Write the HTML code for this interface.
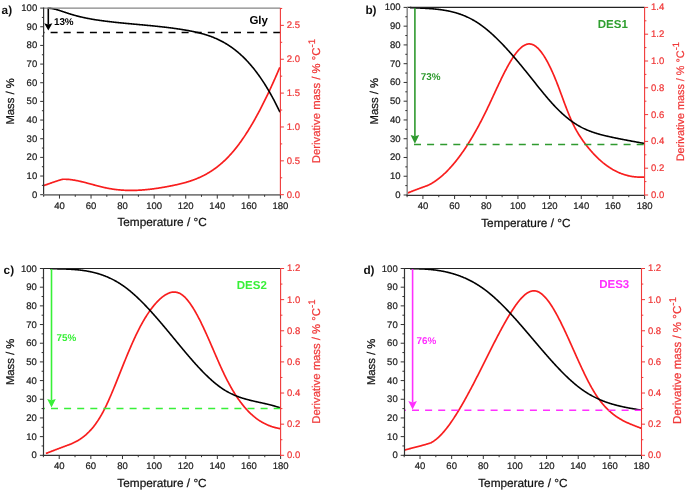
<!DOCTYPE html>
<html><head><meta charset="utf-8"><style>
html,body{margin:0;padding:0;background:#fff;width:685px;height:493px;overflow:hidden}
svg text{font-family:"Liberation Sans", sans-serif}
svg{will-change:transform}
svg text{text-rendering:geometricPrecision}
svg text.t{stroke-width:0.22px}
</style></head><body>
<svg width="685" height="493" viewBox="0 0 685 493" style="display:block">
<rect width="685" height="493" fill="#fff"/>
<g><path d="M43.80,185.50 L44.30,185.34 L44.80,185.18 L45.30,185.01 L45.80,184.84 L46.30,184.67 L46.80,184.50 L47.30,184.33 L47.80,184.16 L48.30,183.98 L48.80,183.81 L49.30,183.63 L49.80,183.45 L50.30,183.28 L50.80,183.10 L51.30,182.92 L51.80,182.75 L52.30,182.57 L52.80,182.39 L53.30,182.22 L53.80,182.04 L54.30,181.87 L54.80,181.70 L55.30,181.53 L55.80,181.36 L56.30,181.19 L56.80,181.02 L57.30,180.86 L57.80,180.70 L58.30,180.54 L58.80,180.38 L59.30,180.23 L59.80,180.08 L60.30,179.93 L60.80,179.79 L61.30,179.65 L61.80,179.51 L62.30,179.38 L62.60,179.30 L63.10,179.26 L63.60,179.25 L64.10,179.25 L64.60,179.25 L65.10,179.25 L65.60,179.26 L66.10,179.28 L66.60,179.30 L67.10,179.32 L67.60,179.35 L68.10,179.39 L68.60,179.43 L69.10,179.47 L69.60,179.52 L70.10,179.57 L70.60,179.63 L71.10,179.69 L71.60,179.75 L72.10,179.82 L72.60,179.89 L73.10,179.97 L73.60,180.05 L74.10,180.13 L74.60,180.21 L75.10,180.30 L75.60,180.39 L76.10,180.49 L76.60,180.58 L77.10,180.68 L77.60,180.79 L78.10,180.89 L78.60,181.00 L79.10,181.11 L79.60,181.22 L80.10,181.33 L80.60,181.44 L81.10,181.56 L81.60,181.68 L82.10,181.80 L82.60,181.92 L83.10,182.04 L83.60,182.17 L84.10,182.29 L84.60,182.42 L85.10,182.55 L85.60,182.67 L86.10,182.80 L86.60,182.93 L87.10,183.07 L87.60,183.20 L88.10,183.33 L88.60,183.46 L89.10,183.60 L89.60,183.73 L90.10,183.86 L90.60,184.00 L91.10,184.13 L91.60,184.27 L92.10,184.40 L92.60,184.54 L93.10,184.67 L93.60,184.81 L94.10,184.94 L94.60,185.08 L95.10,185.21 L95.60,185.35 L96.10,185.48 L96.60,185.61 L97.10,185.74 L97.60,185.87 L98.10,186.00 L98.60,186.13 L99.10,186.26 L99.60,186.39 L100.10,186.51 L100.60,186.64 L101.10,186.76 L101.60,186.88 L102.10,187.00 L102.60,187.12 L103.10,187.24 L103.60,187.35 L104.10,187.47 L104.60,187.58 L105.10,187.69 L105.60,187.80 L106.10,187.91 L106.60,188.01 L107.10,188.11 L107.60,188.21 L108.10,188.31 L108.60,188.40 L109.10,188.50 L109.60,188.59 L110.10,188.68 L110.60,188.76 L111.10,188.84 L111.60,188.92 L112.10,189.00 L112.60,189.08 L113.10,189.15 L113.60,189.23 L114.10,189.29 L114.60,189.36 L115.10,189.43 L115.60,189.49 L116.10,189.55 L116.60,189.61 L117.10,189.66 L117.60,189.72 L118.10,189.77 L118.60,189.82 L119.10,189.87 L119.60,189.91 L120.10,189.96 L120.60,190.00 L121.10,190.04 L121.60,190.07 L122.10,190.11 L122.60,190.14 L123.10,190.17 L123.60,190.20 L124.10,190.23 L124.60,190.26 L125.10,190.28 L125.60,190.30 L126.10,190.32 L126.60,190.34 L127.10,190.35 L127.60,190.37 L128.10,190.38 L128.60,190.39 L129.10,190.40 L129.60,190.40 L130.10,190.41 L130.60,190.41 L131.10,190.41 L131.60,190.41 L132.10,190.41 L132.60,190.40 L133.10,190.40 L133.60,190.39 L134.10,190.38 L134.60,190.37 L135.10,190.35 L135.60,190.34 L136.10,190.32 L136.60,190.30 L137.10,190.28 L137.60,190.26 L138.10,190.24 L138.60,190.21 L139.10,190.19 L139.60,190.16 L140.10,190.13 L140.60,190.10 L141.10,190.07 L141.60,190.03 L142.10,190.00 L142.60,189.96 L143.10,189.92 L143.60,189.88 L144.10,189.84 L144.60,189.80 L145.10,189.76 L145.60,189.71 L146.10,189.66 L146.60,189.62 L147.10,189.57 L147.60,189.52 L148.10,189.46 L148.60,189.41 L149.10,189.36 L149.60,189.30 L150.10,189.24 L150.60,189.18 L151.10,189.12 L151.60,189.06 L152.10,189.00 L152.60,188.94 L153.10,188.87 L153.60,188.81 L154.10,188.74 L154.60,188.67 L155.10,188.60 L155.60,188.53 L156.10,188.46 L156.60,188.39 L157.10,188.31 L157.60,188.24 L158.10,188.16 L158.60,188.08 L159.10,188.01 L159.60,187.93 L160.10,187.85 L160.60,187.77 L161.10,187.68 L161.60,187.60 L162.10,187.52 L162.60,187.43 L163.10,187.35 L163.60,187.26 L164.10,187.17 L164.60,187.08 L165.10,186.99 L165.60,186.90 L166.10,186.81 L166.60,186.72 L167.10,186.63 L167.60,186.53 L168.10,186.44 L168.60,186.34 L169.10,186.25 L169.60,186.15 L170.10,186.05 L170.60,185.96 L171.10,185.86 L171.60,185.76 L172.10,185.66 L172.60,185.56 L173.10,185.45 L173.60,185.35 L174.10,185.25 L174.60,185.14 L175.10,185.04 L175.60,184.93 L176.10,184.82 L176.60,184.71 L177.10,184.60 L177.60,184.49 L178.10,184.37 L178.60,184.26 L179.10,184.14 L179.60,184.02 L180.10,183.90 L180.60,183.78 L181.10,183.66 L181.60,183.53 L182.10,183.41 L182.60,183.28 L183.10,183.15 L183.60,183.02 L184.10,182.88 L184.60,182.75 L185.10,182.61 L185.60,182.47 L186.10,182.32 L186.60,182.18 L187.10,182.03 L187.60,181.88 L188.10,181.73 L188.60,181.57 L189.10,181.42 L189.60,181.26 L190.10,181.09 L190.60,180.93 L191.10,180.76 L191.60,180.59 L192.10,180.41 L192.60,180.24 L193.10,180.06 L193.60,179.88 L194.10,179.69 L194.60,179.50 L195.10,179.31 L195.60,179.11 L196.10,178.92 L196.60,178.71 L197.10,178.51 L197.60,178.30 L198.10,178.09 L198.60,177.87 L199.10,177.65 L199.60,177.43 L200.10,177.20 L200.60,176.97 L201.10,176.74 L201.60,176.50 L202.10,176.26 L202.60,176.02 L203.10,175.77 L203.60,175.51 L204.10,175.26 L204.60,174.99 L205.10,174.73 L205.60,174.46 L206.10,174.18 L206.60,173.90 L207.10,173.62 L207.60,173.33 L208.10,173.04 L208.60,172.74 L209.10,172.44 L209.60,172.14 L210.10,171.83 L210.60,171.51 L211.10,171.19 L211.60,170.86 L212.10,170.53 L212.60,170.20 L213.10,169.86 L213.60,169.51 L214.10,169.16 L214.60,168.81 L215.10,168.45 L215.60,168.08 L216.10,167.71 L216.60,167.33 L217.10,166.95 L217.60,166.56 L218.10,166.17 L218.60,165.77 L219.10,165.37 L219.60,164.96 L220.10,164.54 L220.60,164.12 L221.10,163.69 L221.60,163.26 L222.10,162.82 L222.60,162.37 L223.10,161.92 L223.60,161.46 L224.10,161.00 L224.60,160.53 L225.10,160.05 L225.60,159.57 L226.10,159.08 L226.60,158.59 L227.10,158.08 L227.60,157.58 L228.10,157.06 L228.60,156.54 L229.10,156.01 L229.60,155.48 L230.10,154.93 L230.60,154.38 L231.10,153.83 L231.60,153.27 L232.10,152.70 L232.60,152.12 L233.10,151.54 L233.60,150.95 L234.10,150.35 L234.60,149.74 L235.10,149.13 L235.60,148.51 L236.10,147.88 L236.60,147.25 L237.10,146.61 L237.60,145.96 L238.10,145.30 L238.60,144.64 L239.10,143.97 L239.60,143.29 L240.10,142.60 L240.60,141.91 L241.10,141.21 L241.60,140.50 L242.10,139.79 L242.60,139.07 L243.10,138.34 L243.60,137.61 L244.10,136.86 L244.60,136.11 L245.10,135.36 L245.60,134.60 L246.10,133.83 L246.60,133.05 L247.10,132.27 L247.60,131.48 L248.10,130.68 L248.60,129.88 L249.10,129.07 L249.60,128.25 L250.10,127.42 L250.60,126.59 L251.10,125.76 L251.60,124.91 L252.10,124.06 L252.60,123.21 L253.10,122.34 L253.60,121.47 L254.10,120.60 L254.60,119.71 L255.10,118.82 L255.60,117.93 L256.10,117.02 L256.60,116.12 L257.10,115.20 L257.60,114.28 L258.10,113.35 L258.60,112.42 L259.10,111.48 L259.60,110.53 L260.10,109.58 L260.60,108.62 L261.10,107.65 L261.60,106.68 L262.10,105.71 L262.60,104.72 L263.10,103.73 L263.60,102.74 L264.10,101.73 L264.60,100.73 L265.10,99.71 L265.60,98.69 L266.10,97.67 L266.60,96.64 L267.10,95.60 L267.60,94.56 L268.10,93.51 L268.60,92.45 L269.10,91.39 L269.60,90.33 L270.10,89.25 L270.60,88.18 L271.10,87.09 L271.60,86.00 L272.10,84.91 L272.60,83.81 L273.10,82.70 L273.60,81.59 L274.10,80.47 L274.60,79.35 L275.10,78.22 L275.60,77.09 L276.10,75.95 L276.60,74.80 L277.10,73.65 L277.60,72.50 L278.10,71.34 L278.60,70.17 L279.10,69.00 L279.60,67.82 L279.80,67.35" fill="none" stroke="#f81e1e" stroke-width="1.7" stroke-linejoin="round"/>
<path d="M47.60,8.19 L48.10,8.20 L48.60,8.22 L49.10,8.25 L49.60,8.29 L50.10,8.34 L50.60,8.40 L51.10,8.46 L51.60,8.53 L52.10,8.61 L52.60,8.70 L53.10,8.79 L53.60,8.89 L54.10,8.99 L54.60,9.11 L55.10,9.22 L55.60,9.35 L56.10,9.47 L56.60,9.61 L57.10,9.74 L57.60,9.88 L58.10,10.03 L58.60,10.18 L59.10,10.33 L59.60,10.49 L60.10,10.65 L60.60,10.81 L61.10,10.97 L61.60,11.14 L62.10,11.30 L62.60,11.47 L63.10,11.64 L63.60,11.81 L64.10,11.98 L64.60,12.15 L65.10,12.33 L65.60,12.50 L66.10,12.67 L66.60,12.84 L67.10,13.01 L67.60,13.18 L68.10,13.34 L68.60,13.51 L69.10,13.67 L69.60,13.83 L70.10,13.99 L70.60,14.14 L71.10,14.29 L71.60,14.45 L72.10,14.60 L72.60,14.74 L73.10,14.89 L73.60,15.03 L74.10,15.18 L74.60,15.32 L75.10,15.45 L75.60,15.59 L76.10,15.72 L76.60,15.86 L77.10,15.99 L77.60,16.12 L78.10,16.24 L78.60,16.37 L79.10,16.49 L79.60,16.62 L80.10,16.74 L80.60,16.86 L81.10,16.97 L81.60,17.09 L82.10,17.20 L82.60,17.31 L83.10,17.43 L83.60,17.54 L84.10,17.64 L84.60,17.75 L85.10,17.85 L85.60,17.96 L86.10,18.06 L86.60,18.16 L87.10,18.26 L87.60,18.36 L88.10,18.46 L88.60,18.55 L89.10,18.64 L89.60,18.74 L90.10,18.83 L90.60,18.92 L91.10,19.01 L91.60,19.10 L92.10,19.18 L92.60,19.27 L93.10,19.35 L93.60,19.44 L94.10,19.52 L94.60,19.60 L95.10,19.68 L95.60,19.76 L96.10,19.84 L96.60,19.92 L97.10,19.99 L97.60,20.07 L98.10,20.14 L98.60,20.22 L99.10,20.29 L99.60,20.36 L100.10,20.43 L100.60,20.50 L101.10,20.57 L101.60,20.64 L102.10,20.71 L102.60,20.78 L103.10,20.84 L103.60,20.91 L104.10,20.97 L104.60,21.04 L105.10,21.10 L105.60,21.17 L106.10,21.23 L106.60,21.29 L107.10,21.35 L107.60,21.41 L108.10,21.48 L108.60,21.54 L109.10,21.60 L109.60,21.65 L110.10,21.71 L110.60,21.77 L111.10,21.83 L111.60,21.89 L112.10,21.94 L112.60,22.00 L113.10,22.06 L113.60,22.11 L114.10,22.17 L114.60,22.22 L115.10,22.28 L115.60,22.33 L116.10,22.38 L116.60,22.44 L117.10,22.49 L117.60,22.54 L118.10,22.59 L118.60,22.65 L119.10,22.70 L119.60,22.75 L120.10,22.80 L120.60,22.85 L121.10,22.90 L121.60,22.95 L122.10,23.00 L122.60,23.05 L123.10,23.10 L123.60,23.15 L124.10,23.20 L124.60,23.25 L125.10,23.29 L125.60,23.34 L126.10,23.39 L126.60,23.44 L127.10,23.49 L127.60,23.53 L128.10,23.58 L128.60,23.63 L129.10,23.67 L129.60,23.72 L130.10,23.77 L130.60,23.81 L131.10,23.86 L131.60,23.91 L132.10,23.95 L132.60,24.00 L133.10,24.04 L133.60,24.09 L134.10,24.14 L134.60,24.18 L135.10,24.23 L135.60,24.27 L136.10,24.32 L136.60,24.36 L137.10,24.41 L137.60,24.46 L138.10,24.50 L138.60,24.55 L139.10,24.59 L139.60,24.64 L140.10,24.68 L140.60,24.73 L141.10,24.78 L141.60,24.82 L142.10,24.87 L142.60,24.91 L143.10,24.96 L143.60,25.01 L144.10,25.05 L144.60,25.10 L145.10,25.14 L145.60,25.19 L146.10,25.24 L146.60,25.29 L147.10,25.33 L147.60,25.38 L148.10,25.43 L148.60,25.47 L149.10,25.52 L149.60,25.57 L150.10,25.62 L150.60,25.67 L151.10,25.72 L151.60,25.76 L152.10,25.81 L152.60,25.86 L153.10,25.91 L153.60,25.96 L154.10,26.01 L154.60,26.06 L155.10,26.11 L155.60,26.17 L156.10,26.22 L156.60,26.27 L157.10,26.32 L157.60,26.37 L158.10,26.43 L158.60,26.48 L159.10,26.53 L159.60,26.59 L160.10,26.64 L160.60,26.70 L161.10,26.75 L161.60,26.81 L162.10,26.86 L162.60,26.92 L163.10,26.98 L163.60,27.03 L164.10,27.09 L164.60,27.15 L165.10,27.21 L165.60,27.27 L166.10,27.33 L166.60,27.39 L167.10,27.45 L167.60,27.51 L168.10,27.57 L168.60,27.63 L169.10,27.70 L169.60,27.76 L170.10,27.82 L170.60,27.89 L171.10,27.95 L171.60,28.02 L172.10,28.08 L172.60,28.15 L173.10,28.22 L173.60,28.29 L174.10,28.35 L174.60,28.42 L175.10,28.49 L175.60,28.56 L176.10,28.64 L176.60,28.71 L177.10,28.78 L177.60,28.85 L178.10,28.93 L178.60,29.00 L179.10,29.08 L179.60,29.15 L180.10,29.23 L180.60,29.31 L181.10,29.39 L181.60,29.46 L182.10,29.54 L182.60,29.63 L183.10,29.71 L183.60,29.79 L184.10,29.87 L184.60,29.96 L185.10,30.04 L185.60,30.13 L186.10,30.21 L186.60,30.30 L187.10,30.39 L187.60,30.48 L188.10,30.57 L188.60,30.66 L189.10,30.75 L189.60,30.84 L190.10,30.94 L190.60,31.03 L191.10,31.13 L191.60,31.23 L192.10,31.33 L192.60,31.43 L193.10,31.53 L193.60,31.63 L194.10,31.74 L194.60,31.84 L195.10,31.95 L195.60,32.06 L196.10,32.17 L196.60,32.29 L197.10,32.40 L197.60,32.52 L198.10,32.64 L198.60,32.76 L199.10,32.88 L199.60,33.01 L200.10,33.14 L200.60,33.26 L201.10,33.40 L201.60,33.53 L202.10,33.67 L202.60,33.80 L203.10,33.94 L203.60,34.09 L204.10,34.23 L204.60,34.38 L205.10,34.53 L205.60,34.68 L206.10,34.84 L206.60,35.00 L207.10,35.16 L207.60,35.32 L208.10,35.49 L208.60,35.66 L209.10,35.83 L209.60,36.01 L210.10,36.19 L210.60,36.37 L211.10,36.55 L211.60,36.74 L212.10,36.93 L212.60,37.12 L213.10,37.32 L213.60,37.52 L214.10,37.73 L214.60,37.93 L215.10,38.14 L215.60,38.36 L216.10,38.58 L216.60,38.80 L217.10,39.02 L217.60,39.25 L218.10,39.49 L218.60,39.72 L219.10,39.96 L219.60,40.21 L220.10,40.46 L220.60,40.71 L221.10,40.96 L221.60,41.22 L222.10,41.49 L222.60,41.76 L223.10,42.03 L223.60,42.31 L224.10,42.59 L224.60,42.87 L225.10,43.17 L225.60,43.46 L226.10,43.76 L226.60,44.06 L227.10,44.37 L227.60,44.68 L228.10,45.00 L228.60,45.32 L229.10,45.65 L229.60,45.98 L230.10,46.32 L230.60,46.66 L231.10,47.01 L231.60,47.36 L232.10,47.71 L232.60,48.08 L233.10,48.44 L233.60,48.82 L234.10,49.19 L234.60,49.57 L235.10,49.96 L235.60,50.36 L236.10,50.75 L236.60,51.16 L237.10,51.57 L237.60,51.98 L238.10,52.40 L238.60,52.83 L239.10,53.26 L239.60,53.70 L240.10,54.14 L240.60,54.59 L241.10,55.05 L241.60,55.51 L242.10,55.98 L242.60,56.45 L243.10,56.93 L243.60,57.41 L244.10,57.91 L244.60,58.40 L245.10,58.91 L245.60,59.42 L246.10,59.93 L246.60,60.46 L247.10,60.99 L247.60,61.52 L248.10,62.07 L248.60,62.61 L249.10,63.17 L249.60,63.73 L250.10,64.30 L250.60,64.88 L251.10,65.46 L251.60,66.05 L252.10,66.65 L252.60,67.25 L253.10,67.86 L253.60,68.48 L254.10,69.10 L254.60,69.73 L255.10,70.37 L255.60,71.02 L256.10,71.67 L256.60,72.33 L257.10,73.00 L257.60,73.67 L258.10,74.36 L258.60,75.05 L259.10,75.74 L259.60,76.45 L260.10,77.16 L260.60,77.88 L261.10,78.61 L261.60,79.35 L262.10,80.09 L262.60,80.84 L263.10,81.60 L263.60,82.37 L264.10,83.15 L264.60,83.93 L265.10,84.72 L265.60,85.52 L266.10,86.33 L266.60,87.15 L267.10,87.97 L267.60,88.81 L268.10,89.65 L268.60,90.50 L269.10,91.36 L269.60,92.22 L270.10,93.10 L270.60,93.98 L271.10,94.87 L271.60,95.78 L272.10,96.69 L272.60,97.60 L273.10,98.53 L273.60,99.47 L274.10,100.42 L274.60,101.37 L275.10,102.33 L275.60,103.31 L276.10,104.29 L276.60,105.28 L277.10,106.28 L277.60,107.29 L278.10,108.31 L278.60,109.34 L279.10,110.37 L279.60,111.42 L280.00,112.26" fill="none" stroke="#000" stroke-width="1.6" stroke-linejoin="round"/>
<line x1="43.70" y1="32.40" x2="280.40" y2="32.40" stroke="#000" stroke-width="1.5" stroke-dasharray="7.0 6.1" stroke-dashoffset="6.20"/>
<line x1="48.30" y1="8.10" x2="48.30" y2="24.70" stroke="#000" stroke-width="1.6"/>
<path d="M44.20,23.20 L48.30,24.50 L52.40,23.20 L48.30,30.40 Z" fill="#000"/>
<line x1="43.70" y1="8.10" x2="280.40" y2="8.10" stroke="#858585" stroke-width="1.40"/>
<line x1="43.60" y1="7.60" x2="43.60" y2="195.30" stroke="#333" stroke-width="1.20"/>
<line x1="40.20" y1="194.70" x2="43.70" y2="194.70" stroke="#333" stroke-width="1"/>
<text x="37.20" y="197.70" text-anchor="end" font-size="9.5" fill="#222" stroke="#222" class="t">0</text>
<line x1="41.90" y1="185.37" x2="43.70" y2="185.37" stroke="#333" stroke-width="1"/>
<line x1="40.20" y1="176.04" x2="43.70" y2="176.04" stroke="#333" stroke-width="1"/>
<text x="37.20" y="179.04" text-anchor="end" font-size="9.5" fill="#222" stroke="#222" class="t">10</text>
<line x1="41.90" y1="166.71" x2="43.70" y2="166.71" stroke="#333" stroke-width="1"/>
<line x1="40.20" y1="157.38" x2="43.70" y2="157.38" stroke="#333" stroke-width="1"/>
<text x="37.20" y="160.38" text-anchor="end" font-size="9.5" fill="#222" stroke="#222" class="t">20</text>
<line x1="41.90" y1="148.05" x2="43.70" y2="148.05" stroke="#333" stroke-width="1"/>
<line x1="40.20" y1="138.72" x2="43.70" y2="138.72" stroke="#333" stroke-width="1"/>
<text x="37.20" y="141.72" text-anchor="end" font-size="9.5" fill="#222" stroke="#222" class="t">30</text>
<line x1="41.90" y1="129.39" x2="43.70" y2="129.39" stroke="#333" stroke-width="1"/>
<line x1="40.20" y1="120.06" x2="43.70" y2="120.06" stroke="#333" stroke-width="1"/>
<text x="37.20" y="123.06" text-anchor="end" font-size="9.5" fill="#222" stroke="#222" class="t">40</text>
<line x1="41.90" y1="110.73" x2="43.70" y2="110.73" stroke="#333" stroke-width="1"/>
<line x1="40.20" y1="101.40" x2="43.70" y2="101.40" stroke="#333" stroke-width="1"/>
<text x="37.20" y="104.40" text-anchor="end" font-size="9.5" fill="#222" stroke="#222" class="t">50</text>
<line x1="41.90" y1="92.07" x2="43.70" y2="92.07" stroke="#333" stroke-width="1"/>
<line x1="40.20" y1="82.74" x2="43.70" y2="82.74" stroke="#333" stroke-width="1"/>
<text x="37.20" y="85.74" text-anchor="end" font-size="9.5" fill="#222" stroke="#222" class="t">60</text>
<line x1="41.90" y1="73.41" x2="43.70" y2="73.41" stroke="#333" stroke-width="1"/>
<line x1="40.20" y1="64.08" x2="43.70" y2="64.08" stroke="#333" stroke-width="1"/>
<text x="37.20" y="67.08" text-anchor="end" font-size="9.5" fill="#222" stroke="#222" class="t">70</text>
<line x1="41.90" y1="54.75" x2="43.70" y2="54.75" stroke="#333" stroke-width="1"/>
<line x1="40.20" y1="45.42" x2="43.70" y2="45.42" stroke="#333" stroke-width="1"/>
<text x="37.20" y="48.42" text-anchor="end" font-size="9.5" fill="#222" stroke="#222" class="t">80</text>
<line x1="41.90" y1="36.09" x2="43.70" y2="36.09" stroke="#333" stroke-width="1"/>
<line x1="40.20" y1="26.76" x2="43.70" y2="26.76" stroke="#333" stroke-width="1"/>
<text x="37.20" y="29.76" text-anchor="end" font-size="9.5" fill="#222" stroke="#222" class="t">90</text>
<line x1="41.90" y1="17.43" x2="43.70" y2="17.43" stroke="#333" stroke-width="1"/>
<line x1="40.20" y1="8.10" x2="43.70" y2="8.10" stroke="#333" stroke-width="1"/>
<text x="37.20" y="11.10" text-anchor="end" font-size="9.5" fill="#222" stroke="#222" class="t">100</text>
<line x1="43.10" y1="194.90" x2="280.40" y2="194.90" stroke="#7d7d7d" stroke-width="1.60"/>
<line x1="43.70" y1="194.90" x2="43.70" y2="196.80" stroke="#333" stroke-width="1"/>
<line x1="59.48" y1="194.90" x2="59.48" y2="198.60" stroke="#333" stroke-width="1"/>
<text x="59.48" y="208.50" text-anchor="middle" font-size="9.5" fill="#222" stroke="#222" class="t">40</text>
<line x1="75.26" y1="194.90" x2="75.26" y2="196.80" stroke="#333" stroke-width="1"/>
<line x1="91.04" y1="194.90" x2="91.04" y2="198.60" stroke="#333" stroke-width="1"/>
<text x="91.04" y="208.50" text-anchor="middle" font-size="9.5" fill="#222" stroke="#222" class="t">60</text>
<line x1="106.82" y1="194.90" x2="106.82" y2="196.80" stroke="#333" stroke-width="1"/>
<line x1="122.60" y1="194.90" x2="122.60" y2="198.60" stroke="#333" stroke-width="1"/>
<text x="122.60" y="208.50" text-anchor="middle" font-size="9.5" fill="#222" stroke="#222" class="t">80</text>
<line x1="138.38" y1="194.90" x2="138.38" y2="196.80" stroke="#333" stroke-width="1"/>
<line x1="154.16" y1="194.90" x2="154.16" y2="198.60" stroke="#333" stroke-width="1"/>
<text x="154.16" y="208.50" text-anchor="middle" font-size="9.5" fill="#222" stroke="#222" class="t">100</text>
<line x1="169.94" y1="194.90" x2="169.94" y2="196.80" stroke="#333" stroke-width="1"/>
<line x1="185.72" y1="194.90" x2="185.72" y2="198.60" stroke="#333" stroke-width="1"/>
<text x="185.72" y="208.50" text-anchor="middle" font-size="9.5" fill="#222" stroke="#222" class="t">120</text>
<line x1="201.50" y1="194.90" x2="201.50" y2="196.80" stroke="#333" stroke-width="1"/>
<line x1="217.28" y1="194.90" x2="217.28" y2="198.60" stroke="#333" stroke-width="1"/>
<text x="217.28" y="208.50" text-anchor="middle" font-size="9.5" fill="#222" stroke="#222" class="t">140</text>
<line x1="233.06" y1="194.90" x2="233.06" y2="196.80" stroke="#333" stroke-width="1"/>
<line x1="248.84" y1="194.90" x2="248.84" y2="198.60" stroke="#333" stroke-width="1"/>
<text x="248.84" y="208.50" text-anchor="middle" font-size="9.5" fill="#222" stroke="#222" class="t">160</text>
<line x1="264.62" y1="194.90" x2="264.62" y2="196.80" stroke="#333" stroke-width="1"/>
<line x1="280.40" y1="194.90" x2="280.40" y2="198.60" stroke="#333" stroke-width="1"/>
<text x="280.40" y="208.50" text-anchor="middle" font-size="9.5" fill="#222" stroke="#222" class="t">180</text>
<line x1="280.40" y1="8.10" x2="280.40" y2="195.30" stroke="#f03838" stroke-width="1.1"/>
<line x1="280.40" y1="194.70" x2="283.90" y2="194.70" stroke="#f03838" stroke-width="1"/>
<text x="286.80" y="197.60" font-size="9.5" fill="#f03838" stroke="#f03838" class="t">0.0</text>
<line x1="280.40" y1="177.77" x2="282.20" y2="177.77" stroke="#f03838" stroke-width="1"/>
<line x1="280.40" y1="160.83" x2="283.90" y2="160.83" stroke="#f03838" stroke-width="1"/>
<text x="286.80" y="163.73" font-size="9.5" fill="#f03838" stroke="#f03838" class="t">0.5</text>
<line x1="280.40" y1="143.90" x2="282.20" y2="143.90" stroke="#f03838" stroke-width="1"/>
<line x1="280.40" y1="126.97" x2="283.90" y2="126.97" stroke="#f03838" stroke-width="1"/>
<text x="286.80" y="129.87" font-size="9.5" fill="#f03838" stroke="#f03838" class="t">1.0</text>
<line x1="280.40" y1="110.04" x2="282.20" y2="110.04" stroke="#f03838" stroke-width="1"/>
<line x1="280.40" y1="93.10" x2="283.90" y2="93.10" stroke="#f03838" stroke-width="1"/>
<text x="286.80" y="96.00" font-size="9.5" fill="#f03838" stroke="#f03838" class="t">1.5</text>
<line x1="280.40" y1="76.17" x2="282.20" y2="76.17" stroke="#f03838" stroke-width="1"/>
<line x1="280.40" y1="59.24" x2="283.90" y2="59.24" stroke="#f03838" stroke-width="1"/>
<text x="286.80" y="62.14" font-size="9.5" fill="#f03838" stroke="#f03838" class="t">2.0</text>
<line x1="280.40" y1="42.30" x2="282.20" y2="42.30" stroke="#f03838" stroke-width="1"/>
<line x1="280.40" y1="25.37" x2="283.90" y2="25.37" stroke="#f03838" stroke-width="1"/>
<text x="286.80" y="28.27" font-size="9.5" fill="#f03838" stroke="#f03838" class="t">2.5</text>
<line x1="280.40" y1="8.44" x2="282.20" y2="8.44" stroke="#f03838" stroke-width="1"/>
<text x="162.05" y="226.30" text-anchor="middle" font-size="11.8" fill="#111" stroke="#111" class="t">Temperature / °C</text>
<text transform="translate(14.40,101.40) rotate(-90)" text-anchor="middle" font-size="11.3" fill="#111" stroke="#111" class="t">Mass / %</text>
<text transform="translate(319.90,163.20) rotate(-90)" font-size="11.30" fill="#f03838" stroke="#f03838" class="t">Derivative mass / % °C<tspan font-size="9.61" dy="-4.90">-1</tspan></text>
<text x="1.60" y="13.80" font-size="11.8" font-weight="bold" fill="#111">a)</text>
<text x="249.40" y="23.90" font-size="11.5" font-weight="bold" fill="#000">Gly</text>
<text x="53.90" y="24.80" font-size="9.9" font-weight="bold" fill="#000">13%</text></g>
<g><path d="M407.30,193.20 L407.80,192.99 L408.30,192.78 L408.80,192.57 L409.30,192.36 L409.80,192.16 L410.30,191.95 L410.80,191.75 L411.30,191.55 L411.80,191.35 L412.30,191.15 L412.80,190.96 L413.30,190.76 L413.80,190.57 L414.30,190.37 L414.80,190.18 L415.30,189.99 L415.80,189.80 L416.30,189.61 L416.80,189.42 L417.30,189.24 L417.80,189.05 L418.30,188.87 L418.80,188.68 L419.30,188.50 L419.80,188.31 L420.30,188.13 L420.80,187.95 L421.30,187.76 L421.80,187.58 L422.30,187.40 L422.80,187.22 L423.30,187.04 L423.80,186.86 L424.30,186.68 L424.80,186.49 L425.30,186.31 L425.80,186.13 L426.30,185.95 L426.80,185.77 L427.30,185.59 L427.80,185.41 L428.10,185.30 L428.60,185.07 L429.10,184.81 L429.60,184.55 L430.10,184.28 L430.60,184.01 L431.10,183.73 L431.60,183.44 L432.10,183.14 L432.60,182.84 L433.10,182.53 L433.60,182.21 L434.10,181.89 L434.60,181.56 L435.10,181.22 L435.60,180.87 L436.10,180.52 L436.60,180.16 L437.10,179.80 L437.60,179.43 L438.10,179.05 L438.60,178.66 L439.10,178.27 L439.60,177.87 L440.10,177.46 L440.60,177.05 L441.10,176.63 L441.60,176.20 L442.10,175.77 L442.60,175.33 L443.10,174.88 L443.60,174.43 L444.10,173.97 L444.60,173.50 L445.10,173.02 L445.60,172.54 L446.10,172.05 L446.60,171.56 L447.10,171.06 L447.60,170.55 L448.10,170.03 L448.60,169.51 L449.10,168.98 L449.60,168.44 L450.10,167.90 L450.60,167.35 L451.10,166.79 L451.60,166.23 L452.10,165.66 L452.60,165.08 L453.10,164.50 L453.60,163.91 L454.10,163.31 L454.60,162.71 L455.10,162.10 L455.60,161.48 L456.10,160.86 L456.60,160.22 L457.10,159.59 L457.60,158.94 L458.10,158.29 L458.60,157.63 L459.10,156.97 L459.60,156.29 L460.10,155.62 L460.60,154.93 L461.10,154.24 L461.60,153.54 L462.10,152.83 L462.60,152.12 L463.10,151.40 L463.60,150.68 L464.10,149.95 L464.60,149.21 L465.10,148.46 L465.60,147.71 L466.10,146.95 L466.60,146.18 L467.10,145.41 L467.60,144.63 L468.10,143.84 L468.60,143.05 L469.10,142.25 L469.60,141.45 L470.10,140.63 L470.60,139.81 L471.10,138.99 L471.60,138.15 L472.10,137.31 L472.60,136.47 L473.10,135.62 L473.60,134.76 L474.10,133.89 L474.60,133.02 L475.10,132.14 L475.60,131.25 L476.10,130.36 L476.60,129.46 L477.10,128.55 L477.60,127.64 L478.10,126.72 L478.60,125.79 L479.10,124.86 L479.60,123.92 L480.10,122.97 L480.60,122.02 L481.10,121.06 L481.60,120.10 L482.10,119.12 L482.60,118.14 L483.10,117.16 L483.60,116.17 L484.10,115.17 L484.60,114.16 L485.10,113.15 L485.60,112.13 L486.10,111.10 L486.60,110.07 L487.10,109.03 L487.60,107.99 L488.10,106.94 L488.60,105.89 L489.10,104.83 L489.60,103.77 L490.10,102.70 L490.60,101.63 L491.10,100.56 L491.60,99.49 L492.10,98.41 L492.60,97.33 L493.10,96.26 L493.60,95.18 L494.10,94.10 L494.60,93.02 L495.10,91.94 L495.60,90.87 L496.10,89.79 L496.60,88.72 L497.10,87.65 L497.60,86.58 L498.10,85.52 L498.60,84.46 L499.10,83.40 L499.60,82.35 L500.10,81.31 L500.60,80.27 L501.10,79.23 L501.60,78.20 L502.10,77.18 L502.60,76.17 L503.10,75.16 L503.60,74.16 L504.10,73.17 L504.60,72.19 L505.10,71.22 L505.60,70.26 L506.10,69.30 L506.60,68.36 L507.10,67.43 L507.60,66.51 L508.10,65.61 L508.60,64.71 L509.10,63.83 L509.60,62.96 L510.10,62.10 L510.60,61.26 L511.10,60.44 L511.60,59.63 L512.10,58.83 L512.60,58.05 L513.10,57.28 L513.60,56.54 L514.10,55.80 L514.60,55.09 L515.10,54.40 L515.60,53.72 L516.10,53.06 L516.60,52.42 L517.10,51.80 L517.60,51.20 L518.10,50.62 L518.60,50.06 L519.10,49.53 L519.60,49.01 L520.10,48.52 L520.60,48.05 L521.10,47.60 L521.60,47.18 L522.10,46.78 L522.60,46.40 L523.10,46.05 L523.60,45.72 L524.10,45.42 L524.60,45.15 L525.10,44.90 L525.60,44.68 L526.10,44.49 L526.60,44.32 L527.10,44.18 L527.60,44.07 L528.10,43.99 L528.60,43.94 L529.10,43.92 L529.60,43.93 L530.10,43.97 L530.60,44.04 L531.10,44.14 L531.60,44.27 L532.10,44.42 L532.60,44.61 L533.10,44.82 L533.60,45.06 L534.10,45.33 L534.60,45.63 L535.10,45.95 L535.60,46.30 L536.10,46.68 L536.60,47.09 L537.10,47.52 L537.60,47.98 L538.10,48.46 L538.60,48.97 L539.10,49.50 L539.60,50.06 L540.10,50.64 L540.60,51.25 L541.10,51.88 L541.60,52.54 L542.10,53.22 L542.60,53.92 L543.10,54.64 L543.60,55.39 L544.10,56.16 L544.60,56.96 L545.10,57.77 L545.60,58.61 L546.10,59.47 L546.60,60.35 L547.10,61.26 L547.60,62.18 L548.10,63.12 L548.60,64.09 L549.10,65.07 L549.60,66.07 L550.10,67.10 L550.60,68.14 L551.10,69.20 L551.60,70.28 L552.10,71.38 L552.60,72.49 L553.10,73.63 L553.60,74.78 L554.10,75.95 L554.60,77.14 L555.10,78.34 L555.60,79.56 L556.10,80.80 L556.60,82.05 L557.10,83.32 L557.60,84.61 L558.10,85.91 L558.60,87.22 L559.10,88.55 L559.60,89.88 L560.10,91.23 L560.60,92.58 L561.10,93.94 L561.60,95.30 L562.10,96.66 L562.60,98.02 L563.10,99.38 L563.60,100.74 L564.10,102.09 L564.60,103.43 L565.10,104.77 L565.60,106.10 L566.10,107.41 L566.60,108.71 L567.10,110.00 L567.60,111.28 L568.10,112.54 L568.60,113.78 L569.10,115.01 L569.60,116.21 L570.10,117.40 L570.60,118.57 L571.10,119.72 L571.60,120.84 L572.10,121.94 L572.60,123.02 L573.10,124.08 L573.60,125.11 L574.10,126.11 L574.60,127.09 L575.10,128.05 L575.60,128.99 L576.10,129.91 L576.60,130.80 L577.10,131.68 L577.60,132.54 L578.10,133.38 L578.60,134.20 L579.10,135.01 L579.60,135.80 L580.10,136.58 L580.60,137.34 L581.10,138.09 L581.60,138.82 L582.10,139.54 L582.60,140.25 L583.10,140.95 L583.60,141.64 L584.10,142.33 L584.60,143.00 L585.10,143.66 L585.60,144.32 L586.10,144.97 L586.60,145.61 L587.10,146.24 L587.60,146.87 L588.10,147.49 L588.60,148.10 L589.10,148.70 L589.60,149.30 L590.10,149.89 L590.60,150.48 L591.10,151.05 L591.60,151.62 L592.10,152.18 L592.60,152.74 L593.10,153.28 L593.60,153.82 L594.10,154.36 L594.60,154.88 L595.10,155.40 L595.60,155.91 L596.10,156.42 L596.60,156.92 L597.10,157.41 L597.60,157.89 L598.10,158.37 L598.60,158.84 L599.10,159.31 L599.60,159.77 L600.10,160.22 L600.60,160.66 L601.10,161.10 L601.60,161.53 L602.10,161.96 L602.60,162.37 L603.10,162.79 L603.60,163.19 L604.10,163.59 L604.60,163.98 L605.10,164.37 L605.60,164.75 L606.10,165.12 L606.60,165.49 L607.10,165.85 L607.60,166.20 L608.10,166.55 L608.60,166.89 L609.10,167.23 L609.60,167.56 L610.10,167.88 L610.60,168.20 L611.10,168.51 L611.60,168.81 L612.10,169.11 L612.60,169.41 L613.10,169.69 L613.60,169.98 L614.10,170.25 L614.60,170.52 L615.10,170.78 L615.60,171.04 L616.10,171.29 L616.60,171.54 L617.10,171.78 L617.60,172.02 L618.10,172.24 L618.60,172.47 L619.10,172.69 L619.60,172.90 L620.10,173.10 L620.60,173.31 L621.10,173.50 L621.60,173.69 L622.10,173.88 L622.60,174.06 L623.10,174.23 L623.60,174.40 L624.10,174.56 L624.60,174.72 L625.10,174.87 L625.60,175.02 L626.10,175.16 L626.60,175.30 L627.10,175.43 L627.60,175.56 L628.10,175.68 L628.60,175.80 L629.10,175.91 L629.60,176.01 L630.10,176.11 L630.60,176.21 L631.10,176.30 L631.60,176.39 L632.10,176.47 L632.60,176.55 L633.10,176.62 L633.60,176.69 L634.10,176.75 L634.60,176.81 L635.10,176.86 L635.60,176.91 L636.10,176.95 L636.60,176.99 L637.10,177.02 L637.60,177.05 L638.10,177.08 L638.60,177.10 L639.10,177.11 L639.60,177.13 L640.10,177.13 L640.60,177.14 L641.10,177.13 L641.60,177.13 L642.10,177.12 L642.60,177.10 L643.10,177.08 L643.60,177.06 L644.10,177.03 L644.60,177.00" fill="none" stroke="#f81e1e" stroke-width="1.7" stroke-linejoin="round"/>
<path d="M410.00,7.60 L410.50,7.63 L411.00,7.65 L411.50,7.68 L412.00,7.71 L412.50,7.73 L413.00,7.75 L413.50,7.78 L414.00,7.80 L414.50,7.83 L415.00,7.85 L415.50,7.87 L416.00,7.89 L416.50,7.92 L417.00,7.94 L417.50,7.96 L418.00,7.98 L418.50,8.01 L419.00,8.03 L419.50,8.05 L420.00,8.07 L420.50,8.10 L421.00,8.12 L421.50,8.14 L422.00,8.17 L422.50,8.19 L423.00,8.22 L423.50,8.24 L424.00,8.27 L424.50,8.29 L425.00,8.32 L425.50,8.35 L426.00,8.38 L426.50,8.40 L427.00,8.43 L427.50,8.46 L428.00,8.49 L428.50,8.53 L429.00,8.56 L429.50,8.59 L430.00,8.63 L430.50,8.66 L431.00,8.70 L431.50,8.74 L432.00,8.78 L432.50,8.82 L433.00,8.86 L433.50,8.90 L434.00,8.95 L434.50,8.99 L435.00,9.04 L435.50,9.09 L436.00,9.14 L436.50,9.19 L437.00,9.24 L437.50,9.30 L438.00,9.35 L438.50,9.41 L439.00,9.47 L439.50,9.53 L440.00,9.60 L440.50,9.66 L441.00,9.73 L441.50,9.80 L442.00,9.87 L442.50,9.94 L443.00,10.02 L443.50,10.10 L444.00,10.18 L444.50,10.26 L445.00,10.34 L445.50,10.43 L446.00,10.52 L446.50,10.61 L447.00,10.70 L447.50,10.80 L448.00,10.90 L448.50,11.00 L449.00,11.10 L449.50,11.21 L450.00,11.32 L450.50,11.43 L451.00,11.54 L451.50,11.66 L452.00,11.78 L452.50,11.91 L453.00,12.03 L453.50,12.16 L454.00,12.29 L454.50,12.43 L455.00,12.57 L455.50,12.71 L456.00,12.85 L456.50,13.00 L457.00,13.15 L457.50,13.31 L458.00,13.46 L458.50,13.63 L459.00,13.79 L459.50,13.96 L460.00,14.13 L460.50,14.30 L461.00,14.48 L461.50,14.67 L462.00,14.85 L462.50,15.04 L463.00,15.24 L463.50,15.43 L464.00,15.63 L464.50,15.84 L465.00,16.05 L465.50,16.26 L466.00,16.48 L466.50,16.70 L467.00,16.93 L467.50,17.16 L468.00,17.39 L468.50,17.63 L469.00,17.87 L469.50,18.12 L470.00,18.37 L470.50,18.62 L471.00,18.88 L471.50,19.15 L472.00,19.42 L472.50,19.69 L473.00,19.97 L473.50,20.25 L474.00,20.54 L474.50,20.83 L475.00,21.13 L475.50,21.43 L476.00,21.74 L476.50,22.05 L477.00,22.36 L477.50,22.69 L478.00,23.01 L478.50,23.34 L479.00,23.68 L479.50,24.02 L480.00,24.37 L480.50,24.72 L481.00,25.07 L481.50,25.43 L482.00,25.80 L482.50,26.17 L483.00,26.54 L483.50,26.92 L484.00,27.31 L484.50,27.69 L485.00,28.09 L485.50,28.48 L486.00,28.88 L486.50,29.29 L487.00,29.70 L487.50,30.11 L488.00,30.53 L488.50,30.95 L489.00,31.38 L489.50,31.81 L490.00,32.24 L490.50,32.68 L491.00,33.12 L491.50,33.57 L492.00,34.02 L492.50,34.47 L493.00,34.93 L493.50,35.39 L494.00,35.86 L494.50,36.33 L495.00,36.80 L495.50,37.27 L496.00,37.75 L496.50,38.24 L497.00,38.72 L497.50,39.21 L498.00,39.71 L498.50,40.20 L499.00,40.70 L499.50,41.21 L500.00,41.71 L500.50,42.22 L501.00,42.73 L501.50,43.25 L502.00,43.77 L502.50,44.29 L503.00,44.82 L503.50,45.34 L504.00,45.87 L504.50,46.41 L505.00,46.94 L505.50,47.48 L506.00,48.02 L506.50,48.57 L507.00,49.12 L507.50,49.67 L508.00,50.22 L508.50,50.77 L509.00,51.33 L509.50,51.89 L510.00,52.45 L510.50,53.02 L511.00,53.58 L511.50,54.15 L512.00,54.73 L512.50,55.30 L513.00,55.88 L513.50,56.45 L514.00,57.03 L514.50,57.62 L515.00,58.20 L515.50,58.79 L516.00,59.37 L516.50,59.96 L517.00,60.56 L517.50,61.15 L518.00,61.75 L518.50,62.34 L519.00,62.94 L519.50,63.54 L520.00,64.14 L520.50,64.75 L521.00,65.35 L521.50,65.96 L522.00,66.57 L522.50,67.18 L523.00,67.79 L523.50,68.40 L524.00,69.01 L524.50,69.63 L525.00,70.24 L525.50,70.86 L526.00,71.48 L526.50,72.10 L527.00,72.72 L527.50,73.34 L528.00,73.96 L528.50,74.59 L529.00,75.21 L529.50,75.84 L530.00,76.46 L530.50,77.09 L531.00,77.72 L531.50,78.34 L532.00,78.97 L532.50,79.60 L533.00,80.23 L533.50,80.86 L534.00,81.49 L534.50,82.12 L535.00,82.75 L535.50,83.37 L536.00,84.00 L536.50,84.63 L537.00,85.26 L537.50,85.88 L538.00,86.51 L538.50,87.13 L539.00,87.75 L539.50,88.38 L540.00,89.00 L540.50,89.62 L541.00,90.23 L541.50,90.85 L542.00,91.46 L542.50,92.07 L543.00,92.68 L543.50,93.29 L544.00,93.90 L544.50,94.50 L545.00,95.10 L545.50,95.70 L546.00,96.30 L546.50,96.89 L547.00,97.48 L547.50,98.07 L548.00,98.65 L548.50,99.23 L549.00,99.81 L549.50,100.38 L550.00,100.95 L550.50,101.52 L551.00,102.08 L551.50,102.64 L552.00,103.20 L552.50,103.75 L553.00,104.30 L553.50,104.84 L554.00,105.38 L554.50,105.91 L555.00,106.44 L555.50,106.96 L556.00,107.48 L556.50,108.00 L557.00,108.51 L557.50,109.01 L558.00,109.51 L558.50,110.01 L559.00,110.50 L559.50,110.98 L560.00,111.46 L560.50,111.94 L561.00,112.41 L561.50,112.87 L562.00,113.34 L562.50,113.79 L563.00,114.24 L563.50,114.69 L564.00,115.13 L564.50,115.57 L565.00,116.00 L565.50,116.42 L566.00,116.84 L566.50,117.26 L567.00,117.67 L567.50,118.08 L568.00,118.48 L568.50,118.87 L569.00,119.27 L569.50,119.65 L570.00,120.03 L570.50,120.41 L571.00,120.78 L571.50,121.14 L572.00,121.50 L572.50,121.86 L573.00,122.21 L573.50,122.55 L574.00,122.89 L574.50,123.23 L575.00,123.56 L575.50,123.88 L576.00,124.20 L576.50,124.51 L577.00,124.82 L577.50,125.12 L578.00,125.42 L578.50,125.71 L579.00,126.00 L579.50,126.28 L580.00,126.56 L580.50,126.83 L581.00,127.10 L581.50,127.36 L582.00,127.62 L582.50,127.88 L583.00,128.12 L583.50,128.37 L584.00,128.61 L584.50,128.84 L585.00,129.08 L585.50,129.30 L586.00,129.53 L586.50,129.75 L587.00,129.96 L587.50,130.17 L588.00,130.38 L588.50,130.58 L589.00,130.78 L589.50,130.98 L590.00,131.17 L590.50,131.36 L591.00,131.55 L591.50,131.73 L592.00,131.91 L592.50,132.09 L593.00,132.26 L593.50,132.43 L594.00,132.60 L594.50,132.76 L595.00,132.92 L595.50,133.08 L596.00,133.24 L596.50,133.39 L597.00,133.54 L597.50,133.69 L598.00,133.84 L598.50,133.98 L599.00,134.12 L599.50,134.26 L600.00,134.40 L600.50,134.53 L601.00,134.67 L601.50,134.80 L602.00,134.93 L602.50,135.06 L603.00,135.18 L603.50,135.31 L604.00,135.43 L604.50,135.55 L605.00,135.67 L605.50,135.79 L606.00,135.91 L606.50,136.03 L607.00,136.14 L607.50,136.26 L608.00,136.37 L608.50,136.48 L609.00,136.59 L609.50,136.71 L610.00,136.82 L610.50,136.93 L611.00,137.04 L611.50,137.14 L612.00,137.25 L612.50,137.36 L613.00,137.47 L613.50,137.57 L614.00,137.68 L614.50,137.78 L615.00,137.89 L615.50,137.99 L616.00,138.10 L616.50,138.20 L617.00,138.30 L617.50,138.40 L618.00,138.50 L618.50,138.60 L619.00,138.70 L619.50,138.80 L620.00,138.90 L620.50,139.00 L621.00,139.10 L621.50,139.20 L622.00,139.30 L622.50,139.40 L623.00,139.49 L623.50,139.59 L624.00,139.68 L624.50,139.78 L625.00,139.88 L625.50,139.97 L626.00,140.07 L626.50,140.16 L627.00,140.26 L627.50,140.35 L628.00,140.44 L628.50,140.54 L629.00,140.63 L629.50,140.72 L630.00,140.82 L630.50,140.91 L631.00,141.00 L631.50,141.10 L632.00,141.19 L632.50,141.28 L633.00,141.37 L633.50,141.46 L634.00,141.56 L634.50,141.65 L635.00,141.74 L635.50,141.83 L636.00,141.92 L636.50,142.01 L637.00,142.11 L637.50,142.20 L638.00,142.29 L638.50,142.38 L639.00,142.47 L639.50,142.56 L640.00,142.66 L640.50,142.75 L641.00,142.84 L641.50,142.93 L642.00,143.02 L642.50,143.12 L643.00,143.21 L643.50,143.30 L644.00,143.39 L644.50,143.49 L644.60,143.50" fill="none" stroke="#000" stroke-width="1.6" stroke-linejoin="round"/>
<line x1="407.10" y1="144.40" x2="644.60" y2="144.40" stroke="#2f9a2f" stroke-width="1.5" stroke-dasharray="7.0 6.1" stroke-dashoffset="6.20"/>
<line x1="414.90" y1="7.40" x2="414.90" y2="136.40" stroke="#2f9a2f" stroke-width="1.6"/>
<path d="M410.60,134.90 L414.90,136.20 L419.20,134.90 L414.90,143.70 Z" fill="#2f9a2f"/>
<line x1="407.10" y1="7.40" x2="644.60" y2="7.40" stroke="#222" stroke-width="1.40"/>
<line x1="407.20" y1="6.90" x2="407.20" y2="195.60" stroke="#8a8a8a" stroke-width="1.50"/>
<line x1="403.60" y1="195.00" x2="407.10" y2="195.00" stroke="#333" stroke-width="1"/>
<text x="400.60" y="198.00" text-anchor="end" font-size="9.5" fill="#222" stroke="#222" class="t">0</text>
<line x1="405.30" y1="185.62" x2="407.10" y2="185.62" stroke="#333" stroke-width="1"/>
<line x1="403.60" y1="176.24" x2="407.10" y2="176.24" stroke="#333" stroke-width="1"/>
<text x="400.60" y="179.24" text-anchor="end" font-size="9.5" fill="#222" stroke="#222" class="t">10</text>
<line x1="405.30" y1="166.86" x2="407.10" y2="166.86" stroke="#333" stroke-width="1"/>
<line x1="403.60" y1="157.48" x2="407.10" y2="157.48" stroke="#333" stroke-width="1"/>
<text x="400.60" y="160.48" text-anchor="end" font-size="9.5" fill="#222" stroke="#222" class="t">20</text>
<line x1="405.30" y1="148.10" x2="407.10" y2="148.10" stroke="#333" stroke-width="1"/>
<line x1="403.60" y1="138.72" x2="407.10" y2="138.72" stroke="#333" stroke-width="1"/>
<text x="400.60" y="141.72" text-anchor="end" font-size="9.5" fill="#222" stroke="#222" class="t">30</text>
<line x1="405.30" y1="129.34" x2="407.10" y2="129.34" stroke="#333" stroke-width="1"/>
<line x1="403.60" y1="119.96" x2="407.10" y2="119.96" stroke="#333" stroke-width="1"/>
<text x="400.60" y="122.96" text-anchor="end" font-size="9.5" fill="#222" stroke="#222" class="t">40</text>
<line x1="405.30" y1="110.58" x2="407.10" y2="110.58" stroke="#333" stroke-width="1"/>
<line x1="403.60" y1="101.20" x2="407.10" y2="101.20" stroke="#333" stroke-width="1"/>
<text x="400.60" y="104.20" text-anchor="end" font-size="9.5" fill="#222" stroke="#222" class="t">50</text>
<line x1="405.30" y1="91.82" x2="407.10" y2="91.82" stroke="#333" stroke-width="1"/>
<line x1="403.60" y1="82.44" x2="407.10" y2="82.44" stroke="#333" stroke-width="1"/>
<text x="400.60" y="85.44" text-anchor="end" font-size="9.5" fill="#222" stroke="#222" class="t">60</text>
<line x1="405.30" y1="73.06" x2="407.10" y2="73.06" stroke="#333" stroke-width="1"/>
<line x1="403.60" y1="63.68" x2="407.10" y2="63.68" stroke="#333" stroke-width="1"/>
<text x="400.60" y="66.68" text-anchor="end" font-size="9.5" fill="#222" stroke="#222" class="t">70</text>
<line x1="405.30" y1="54.30" x2="407.10" y2="54.30" stroke="#333" stroke-width="1"/>
<line x1="403.60" y1="44.92" x2="407.10" y2="44.92" stroke="#333" stroke-width="1"/>
<text x="400.60" y="47.92" text-anchor="end" font-size="9.5" fill="#222" stroke="#222" class="t">80</text>
<line x1="405.30" y1="35.54" x2="407.10" y2="35.54" stroke="#333" stroke-width="1"/>
<line x1="403.60" y1="26.16" x2="407.10" y2="26.16" stroke="#333" stroke-width="1"/>
<text x="400.60" y="29.16" text-anchor="end" font-size="9.5" fill="#222" stroke="#222" class="t">90</text>
<line x1="405.30" y1="16.78" x2="407.10" y2="16.78" stroke="#333" stroke-width="1"/>
<line x1="403.60" y1="7.40" x2="407.10" y2="7.40" stroke="#333" stroke-width="1"/>
<text x="400.60" y="10.40" text-anchor="end" font-size="9.5" fill="#222" stroke="#222" class="t">100</text>
<line x1="406.50" y1="195.30" x2="644.60" y2="195.30" stroke="#333" stroke-width="1.30"/>
<line x1="407.10" y1="195.30" x2="407.10" y2="197.20" stroke="#333" stroke-width="1"/>
<line x1="422.93" y1="195.30" x2="422.93" y2="199.00" stroke="#333" stroke-width="1"/>
<text x="422.93" y="208.80" text-anchor="middle" font-size="9.5" fill="#222" stroke="#222" class="t">40</text>
<line x1="438.77" y1="195.30" x2="438.77" y2="197.20" stroke="#333" stroke-width="1"/>
<line x1="454.60" y1="195.30" x2="454.60" y2="199.00" stroke="#333" stroke-width="1"/>
<text x="454.60" y="208.80" text-anchor="middle" font-size="9.5" fill="#222" stroke="#222" class="t">60</text>
<line x1="470.43" y1="195.30" x2="470.43" y2="197.20" stroke="#333" stroke-width="1"/>
<line x1="486.27" y1="195.30" x2="486.27" y2="199.00" stroke="#333" stroke-width="1"/>
<text x="486.27" y="208.80" text-anchor="middle" font-size="9.5" fill="#222" stroke="#222" class="t">80</text>
<line x1="502.10" y1="195.30" x2="502.10" y2="197.20" stroke="#333" stroke-width="1"/>
<line x1="517.93" y1="195.30" x2="517.93" y2="199.00" stroke="#333" stroke-width="1"/>
<text x="517.93" y="208.80" text-anchor="middle" font-size="9.5" fill="#222" stroke="#222" class="t">100</text>
<line x1="533.77" y1="195.30" x2="533.77" y2="197.20" stroke="#333" stroke-width="1"/>
<line x1="549.60" y1="195.30" x2="549.60" y2="199.00" stroke="#333" stroke-width="1"/>
<text x="549.60" y="208.80" text-anchor="middle" font-size="9.5" fill="#222" stroke="#222" class="t">120</text>
<line x1="565.43" y1="195.30" x2="565.43" y2="197.20" stroke="#333" stroke-width="1"/>
<line x1="581.27" y1="195.30" x2="581.27" y2="199.00" stroke="#333" stroke-width="1"/>
<text x="581.27" y="208.80" text-anchor="middle" font-size="9.5" fill="#222" stroke="#222" class="t">140</text>
<line x1="597.10" y1="195.30" x2="597.10" y2="197.20" stroke="#333" stroke-width="1"/>
<line x1="612.93" y1="195.30" x2="612.93" y2="199.00" stroke="#333" stroke-width="1"/>
<text x="612.93" y="208.80" text-anchor="middle" font-size="9.5" fill="#222" stroke="#222" class="t">160</text>
<line x1="628.77" y1="195.30" x2="628.77" y2="197.20" stroke="#333" stroke-width="1"/>
<line x1="644.60" y1="195.30" x2="644.60" y2="199.00" stroke="#333" stroke-width="1"/>
<text x="644.60" y="208.80" text-anchor="middle" font-size="9.5" fill="#222" stroke="#222" class="t">180</text>
<line x1="644.60" y1="7.40" x2="644.60" y2="195.60" stroke="#f03838" stroke-width="1.1"/>
<line x1="644.60" y1="195.00" x2="648.10" y2="195.00" stroke="#f03838" stroke-width="1"/>
<text x="651.00" y="197.90" font-size="9.5" fill="#f03838" stroke="#f03838" class="t">0.0</text>
<line x1="644.60" y1="181.60" x2="646.40" y2="181.60" stroke="#f03838" stroke-width="1"/>
<line x1="644.60" y1="168.20" x2="648.10" y2="168.20" stroke="#f03838" stroke-width="1"/>
<text x="651.00" y="171.10" font-size="9.5" fill="#f03838" stroke="#f03838" class="t">0.2</text>
<line x1="644.60" y1="154.80" x2="646.40" y2="154.80" stroke="#f03838" stroke-width="1"/>
<line x1="644.60" y1="141.40" x2="648.10" y2="141.40" stroke="#f03838" stroke-width="1"/>
<text x="651.00" y="144.30" font-size="9.5" fill="#f03838" stroke="#f03838" class="t">0.4</text>
<line x1="644.60" y1="128.00" x2="646.40" y2="128.00" stroke="#f03838" stroke-width="1"/>
<line x1="644.60" y1="114.60" x2="648.10" y2="114.60" stroke="#f03838" stroke-width="1"/>
<text x="651.00" y="117.50" font-size="9.5" fill="#f03838" stroke="#f03838" class="t">0.6</text>
<line x1="644.60" y1="101.20" x2="646.40" y2="101.20" stroke="#f03838" stroke-width="1"/>
<line x1="644.60" y1="87.80" x2="648.10" y2="87.80" stroke="#f03838" stroke-width="1"/>
<text x="651.00" y="90.70" font-size="9.5" fill="#f03838" stroke="#f03838" class="t">0.8</text>
<line x1="644.60" y1="74.40" x2="646.40" y2="74.40" stroke="#f03838" stroke-width="1"/>
<line x1="644.60" y1="61.00" x2="648.10" y2="61.00" stroke="#f03838" stroke-width="1"/>
<text x="651.00" y="63.90" font-size="9.5" fill="#f03838" stroke="#f03838" class="t">1.0</text>
<line x1="644.60" y1="47.60" x2="646.40" y2="47.60" stroke="#f03838" stroke-width="1"/>
<line x1="644.60" y1="34.20" x2="648.10" y2="34.20" stroke="#f03838" stroke-width="1"/>
<text x="651.00" y="37.10" font-size="9.5" fill="#f03838" stroke="#f03838" class="t">1.2</text>
<line x1="644.60" y1="20.80" x2="646.40" y2="20.80" stroke="#f03838" stroke-width="1"/>
<line x1="644.60" y1="7.40" x2="648.10" y2="7.40" stroke="#f03838" stroke-width="1"/>
<text x="651.00" y="10.30" font-size="9.5" fill="#f03838" stroke="#f03838" class="t">1.4</text>
<text x="525.85" y="226.60" text-anchor="middle" font-size="11.8" fill="#111" stroke="#111" class="t">Temperature / °C</text>
<text transform="translate(377.80,101.20) rotate(-90)" text-anchor="middle" font-size="11.3" fill="#111" stroke="#111" class="t">Mass / %</text>
<text transform="translate(683.60,161.30) rotate(-90)" font-size="10.85" fill="#f03838" stroke="#f03838" class="t">Derivative mass / % °C<tspan font-size="9.22" dy="-4.71">-1</tspan></text>
<text x="365.40" y="13.90" font-size="11.8" font-weight="bold" fill="#111">b)</text>
<text x="597.80" y="28.40" font-size="11.5" font-weight="bold" fill="#2f9f2f">DES1</text>
<text x="420.70" y="80.30" font-size="9.9" font-weight="bold" fill="#2f9a2f">73%</text></g>
<g><path d="M45.90,453.50 L46.40,453.30 L46.90,453.11 L47.40,452.91 L47.90,452.72 L48.40,452.52 L48.90,452.33 L49.40,452.13 L49.90,451.94 L50.40,451.74 L50.90,451.55 L51.40,451.36 L51.90,451.16 L52.40,450.97 L52.90,450.78 L53.40,450.59 L53.90,450.39 L54.40,450.20 L54.90,450.01 L55.40,449.82 L55.90,449.63 L56.40,449.44 L56.90,449.24 L57.40,449.05 L57.90,448.86 L58.40,448.67 L58.90,448.49 L59.40,448.30 L59.90,448.11 L60.40,447.92 L60.90,447.73 L61.40,447.54 L61.90,447.36 L62.40,447.17 L62.90,446.98 L63.40,446.80 L63.90,446.61 L64.40,446.43 L64.90,446.24 L65.40,446.06 L65.90,445.87 L66.40,445.69 L66.90,445.50 L67.40,445.32 L67.90,445.14 L68.40,444.96 L68.90,444.77 L69.40,444.59 L69.90,444.41 L70.40,444.23 L70.90,444.05 L71.40,443.87 L71.60,443.80 L72.10,443.55 L72.60,443.32 L73.10,443.08 L73.60,442.84 L74.10,442.59 L74.60,442.34 L75.10,442.08 L75.60,441.82 L76.10,441.55 L76.60,441.27 L77.10,440.99 L77.60,440.70 L78.10,440.41 L78.60,440.11 L79.10,439.80 L79.60,439.48 L80.10,439.16 L80.60,438.82 L81.10,438.48 L81.60,438.14 L82.10,437.78 L82.60,437.41 L83.10,437.04 L83.60,436.65 L84.10,436.26 L84.60,435.85 L85.10,435.44 L85.60,435.01 L86.10,434.58 L86.60,434.13 L87.10,433.68 L87.60,433.21 L88.10,432.73 L88.60,432.24 L89.10,431.73 L89.60,431.22 L90.10,430.69 L90.60,430.15 L91.10,429.59 L91.60,429.03 L92.10,428.45 L92.60,427.85 L93.10,427.25 L93.60,426.62 L94.10,425.99 L94.60,425.34 L95.10,424.67 L95.60,423.99 L96.10,423.29 L96.60,422.58 L97.10,421.85 L97.60,421.11 L98.10,420.35 L98.60,419.57 L99.10,418.78 L99.60,417.97 L100.10,417.14 L100.60,416.30 L101.10,415.43 L101.60,414.55 L102.10,413.66 L102.60,412.74 L103.10,411.80 L103.60,410.85 L104.10,409.88 L104.60,408.89 L105.10,407.88 L105.60,406.86 L106.10,405.82 L106.60,404.77 L107.10,403.70 L107.60,402.62 L108.10,401.53 L108.60,400.42 L109.10,399.30 L109.60,398.17 L110.10,397.03 L110.60,395.88 L111.10,394.71 L111.60,393.54 L112.10,392.36 L112.60,391.17 L113.10,389.97 L113.60,388.76 L114.10,387.55 L114.60,386.33 L115.10,385.10 L115.60,383.87 L116.10,382.64 L116.60,381.40 L117.10,380.16 L117.60,378.91 L118.10,377.66 L118.60,376.41 L119.10,375.16 L119.60,373.90 L120.10,372.65 L120.60,371.40 L121.10,370.14 L121.60,368.89 L122.10,367.64 L122.60,366.39 L123.10,365.15 L123.60,363.91 L124.10,362.67 L124.60,361.44 L125.10,360.21 L125.60,358.98 L126.10,357.76 L126.60,356.55 L127.10,355.34 L127.60,354.14 L128.10,352.94 L128.60,351.75 L129.10,350.57 L129.60,349.39 L130.10,348.22 L130.60,347.06 L131.10,345.91 L131.60,344.77 L132.10,343.63 L132.60,342.51 L133.10,341.39 L133.60,340.28 L134.10,339.19 L134.60,338.10 L135.10,337.02 L135.60,335.96 L136.10,334.90 L136.60,333.86 L137.10,332.83 L137.60,331.81 L138.10,330.81 L138.60,329.82 L139.10,328.84 L139.60,327.87 L140.10,326.91 L140.60,325.97 L141.10,325.04 L141.60,324.13 L142.10,323.22 L142.60,322.33 L143.10,321.45 L143.60,320.58 L144.10,319.73 L144.60,318.89 L145.10,318.06 L145.60,317.24 L146.10,316.44 L146.60,315.65 L147.10,314.87 L147.60,314.10 L148.10,313.35 L148.60,312.61 L149.10,311.88 L149.60,311.16 L150.10,310.45 L150.60,309.76 L151.10,309.08 L151.60,308.41 L152.10,307.76 L152.60,307.11 L153.10,306.48 L153.60,305.86 L154.10,305.26 L154.60,304.66 L155.10,304.08 L155.60,303.51 L156.10,302.95 L156.60,302.41 L157.10,301.87 L157.60,301.35 L158.10,300.84 L158.60,300.35 L159.10,299.86 L159.60,299.39 L160.10,298.93 L160.60,298.48 L161.10,298.04 L161.60,297.62 L162.10,297.21 L162.60,296.81 L163.10,296.43 L163.60,296.06 L164.10,295.70 L164.60,295.36 L165.10,295.04 L165.60,294.73 L166.10,294.43 L166.60,294.15 L167.10,293.89 L167.60,293.64 L168.10,293.41 L168.60,293.20 L169.10,293.00 L169.60,292.82 L170.10,292.66 L170.60,292.51 L171.10,292.39 L171.60,292.28 L172.10,292.20 L172.60,292.13 L173.10,292.08 L173.60,292.05 L174.10,292.04 L174.60,292.05 L175.10,292.08 L175.60,292.14 L176.10,292.21 L176.60,292.31 L177.10,292.42 L177.60,292.56 L178.10,292.73 L178.60,292.91 L179.10,293.12 L179.60,293.35 L180.10,293.60 L180.60,293.88 L181.10,294.18 L181.60,294.51 L182.10,294.86 L182.60,295.24 L183.10,295.64 L183.60,296.06 L184.10,296.50 L184.60,296.97 L185.10,297.46 L185.60,297.97 L186.10,298.51 L186.60,299.06 L187.10,299.63 L187.60,300.23 L188.10,300.85 L188.60,301.48 L189.10,302.14 L189.60,302.81 L190.10,303.50 L190.60,304.21 L191.10,304.94 L191.60,305.69 L192.10,306.45 L192.60,307.23 L193.10,308.03 L193.60,308.84 L194.10,309.67 L194.60,310.51 L195.10,311.37 L195.60,312.25 L196.10,313.14 L196.60,314.04 L197.10,314.95 L197.60,315.88 L198.10,316.83 L198.60,317.78 L199.10,318.75 L199.60,319.73 L200.10,320.72 L200.60,321.72 L201.10,322.73 L201.60,323.76 L202.10,324.79 L202.60,325.84 L203.10,326.89 L203.60,327.95 L204.10,329.02 L204.60,330.10 L205.10,331.19 L205.60,332.28 L206.10,333.38 L206.60,334.49 L207.10,335.61 L207.60,336.73 L208.10,337.86 L208.60,338.99 L209.10,340.13 L209.60,341.27 L210.10,342.42 L210.60,343.57 L211.10,344.72 L211.60,345.88 L212.10,347.04 L212.60,348.20 L213.10,349.36 L213.60,350.52 L214.10,351.68 L214.60,352.84 L215.10,354.00 L215.60,355.16 L216.10,356.31 L216.60,357.46 L217.10,358.61 L217.60,359.75 L218.10,360.89 L218.60,362.03 L219.10,363.16 L219.60,364.28 L220.10,365.40 L220.60,366.50 L221.10,367.61 L221.60,368.70 L222.10,369.78 L222.60,370.86 L223.10,371.92 L223.60,372.98 L224.10,374.02 L224.60,375.06 L225.10,376.08 L225.60,377.09 L226.10,378.09 L226.60,379.08 L227.10,380.05 L227.60,381.02 L228.10,381.98 L228.60,382.92 L229.10,383.85 L229.60,384.77 L230.10,385.68 L230.60,386.58 L231.10,387.47 L231.60,388.35 L232.10,389.21 L232.60,390.06 L233.10,390.90 L233.60,391.74 L234.10,392.55 L234.60,393.36 L235.10,394.16 L235.60,394.94 L236.10,395.71 L236.60,396.48 L237.10,397.23 L237.60,397.96 L238.10,398.69 L238.60,399.41 L239.10,400.12 L239.60,400.81 L240.10,401.50 L240.60,402.17 L241.10,402.83 L241.60,403.49 L242.10,404.13 L242.60,404.76 L243.10,405.38 L243.60,406.00 L244.10,406.60 L244.60,407.19 L245.10,407.77 L245.60,408.34 L246.10,408.90 L246.60,409.46 L247.10,410.00 L247.60,410.53 L248.10,411.06 L248.60,411.57 L249.10,412.08 L249.60,412.57 L250.10,413.06 L250.60,413.54 L251.10,414.01 L251.60,414.47 L252.10,414.92 L252.60,415.36 L253.10,415.79 L253.60,416.22 L254.10,416.64 L254.60,417.04 L255.10,417.44 L255.60,417.84 L256.10,418.22 L256.60,418.60 L257.10,418.96 L257.60,419.32 L258.10,419.68 L258.60,420.02 L259.10,420.36 L259.60,420.68 L260.10,421.01 L260.60,421.32 L261.10,421.63 L261.60,421.93 L262.10,422.22 L262.60,422.50 L263.10,422.78 L263.60,423.05 L264.10,423.32 L264.60,423.57 L265.10,423.82 L265.60,424.07 L266.10,424.31 L266.60,424.54 L267.10,424.76 L267.60,424.98 L268.10,425.19 L268.60,425.40 L269.10,425.60 L269.60,425.79 L270.10,425.98 L270.60,426.16 L271.10,426.34 L271.60,426.51 L272.10,426.68 L272.60,426.84 L273.10,426.99 L273.60,427.14 L274.10,427.28 L274.60,427.42 L275.10,427.56 L275.60,427.69 L276.10,427.81 L276.60,427.93 L277.10,428.04 L277.60,428.15 L278.10,428.26 L278.60,428.36 L279.10,428.45 L279.60,428.54 L280.10,428.63 L280.60,428.71" fill="none" stroke="#f81e1e" stroke-width="1.7" stroke-linejoin="round"/>
<path d="M50.00,268.70 L50.50,268.71 L51.00,268.72 L51.50,268.73 L52.00,268.74 L52.50,268.74 L53.00,268.75 L53.50,268.76 L54.00,268.77 L54.50,268.78 L55.00,268.79 L55.50,268.79 L56.00,268.80 L56.50,268.81 L57.00,268.82 L57.50,268.83 L58.00,268.84 L58.50,268.85 L59.00,268.86 L59.50,268.87 L60.00,268.88 L60.50,268.89 L61.00,268.90 L61.50,268.92 L62.00,268.93 L62.50,268.94 L63.00,268.96 L63.50,268.97 L64.00,268.99 L64.50,269.00 L65.00,269.02 L65.50,269.04 L66.00,269.06 L66.50,269.08 L67.00,269.10 L67.50,269.12 L68.00,269.14 L68.50,269.17 L69.00,269.19 L69.50,269.22 L70.00,269.24 L70.50,269.27 L71.00,269.30 L71.50,269.33 L72.00,269.36 L72.50,269.40 L73.00,269.43 L73.50,269.47 L74.00,269.50 L74.50,269.54 L75.00,269.58 L75.50,269.62 L76.00,269.67 L76.50,269.71 L77.00,269.76 L77.50,269.81 L78.00,269.86 L78.50,269.91 L79.00,269.96 L79.50,270.01 L80.00,270.07 L80.50,270.13 L81.00,270.19 L81.50,270.25 L82.00,270.32 L82.50,270.38 L83.00,270.45 L83.50,270.52 L84.00,270.60 L84.50,270.67 L85.00,270.75 L85.50,270.83 L86.00,270.91 L86.50,270.99 L87.00,271.08 L87.50,271.17 L88.00,271.26 L88.50,271.35 L89.00,271.45 L89.50,271.54 L90.00,271.64 L90.50,271.75 L91.00,271.85 L91.50,271.96 L92.00,272.07 L92.50,272.19 L93.00,272.30 L93.50,272.42 L94.00,272.55 L94.50,272.67 L95.00,272.80 L95.50,272.93 L96.00,273.06 L96.50,273.20 L97.00,273.34 L97.50,273.48 L98.00,273.63 L98.50,273.78 L99.00,273.93 L99.50,274.09 L100.00,274.24 L100.50,274.41 L101.00,274.57 L101.50,274.74 L102.00,274.91 L102.50,275.09 L103.00,275.27 L103.50,275.45 L104.00,275.64 L104.50,275.82 L105.00,276.02 L105.50,276.21 L106.00,276.41 L106.50,276.62 L107.00,276.83 L107.50,277.04 L108.00,277.25 L108.50,277.47 L109.00,277.70 L109.50,277.92 L110.00,278.15 L110.50,278.39 L111.00,278.63 L111.50,278.87 L112.00,279.12 L112.50,279.37 L113.00,279.62 L113.50,279.88 L114.00,280.15 L114.50,280.41 L115.00,280.69 L115.50,280.96 L116.00,281.24 L116.50,281.53 L117.00,281.82 L117.50,282.11 L118.00,282.41 L118.50,282.71 L119.00,283.02 L119.50,283.33 L120.00,283.65 L120.50,283.97 L121.00,284.30 L121.50,284.63 L122.00,284.97 L122.50,285.31 L123.00,285.65 L123.50,286.00 L124.00,286.36 L124.50,286.72 L125.00,287.08 L125.50,287.45 L126.00,287.83 L126.50,288.21 L127.00,288.59 L127.50,288.98 L128.00,289.37 L128.50,289.77 L129.00,290.17 L129.50,290.58 L130.00,290.99 L130.50,291.40 L131.00,291.82 L131.50,292.24 L132.00,292.67 L132.50,293.10 L133.00,293.54 L133.50,293.98 L134.00,294.42 L134.50,294.87 L135.00,295.32 L135.50,295.77 L136.00,296.23 L136.50,296.70 L137.00,297.16 L137.50,297.63 L138.00,298.10 L138.50,298.58 L139.00,299.06 L139.50,299.54 L140.00,300.03 L140.50,300.52 L141.00,301.02 L141.50,301.51 L142.00,302.01 L142.50,302.52 L143.00,303.02 L143.50,303.53 L144.00,304.04 L144.50,304.56 L145.00,305.08 L145.50,305.60 L146.00,306.12 L146.50,306.65 L147.00,307.18 L147.50,307.71 L148.00,308.25 L148.50,308.78 L149.00,309.32 L149.50,309.87 L150.00,310.41 L150.50,310.96 L151.00,311.51 L151.50,312.06 L152.00,312.61 L152.50,313.17 L153.00,313.73 L153.50,314.29 L154.00,314.85 L154.50,315.42 L155.00,315.98 L155.50,316.55 L156.00,317.12 L156.50,317.70 L157.00,318.27 L157.50,318.85 L158.00,319.42 L158.50,320.00 L159.00,320.58 L159.50,321.17 L160.00,321.75 L160.50,322.34 L161.00,322.92 L161.50,323.51 L162.00,324.10 L162.50,324.69 L163.00,325.28 L163.50,325.88 L164.00,326.47 L164.50,327.07 L165.00,327.66 L165.50,328.26 L166.00,328.86 L166.50,329.46 L167.00,330.06 L167.50,330.66 L168.00,331.26 L168.50,331.86 L169.00,332.47 L169.50,333.07 L170.00,333.67 L170.50,334.28 L171.00,334.88 L171.50,335.49 L172.00,336.10 L172.50,336.70 L173.00,337.31 L173.50,337.92 L174.00,338.52 L174.50,339.13 L175.00,339.74 L175.50,340.34 L176.00,340.95 L176.50,341.56 L177.00,342.16 L177.50,342.77 L178.00,343.38 L178.50,343.98 L179.00,344.59 L179.50,345.19 L180.00,345.80 L180.50,346.40 L181.00,347.00 L181.50,347.61 L182.00,348.21 L182.50,348.81 L183.00,349.41 L183.50,350.01 L184.00,350.60 L184.50,351.20 L185.00,351.79 L185.50,352.39 L186.00,352.98 L186.50,353.57 L187.00,354.16 L187.50,354.75 L188.00,355.34 L188.50,355.92 L189.00,356.51 L189.50,357.09 L190.00,357.67 L190.50,358.25 L191.00,358.83 L191.50,359.40 L192.00,359.97 L192.50,360.54 L193.00,361.11 L193.50,361.68 L194.00,362.24 L194.50,362.80 L195.00,363.36 L195.50,363.92 L196.00,364.47 L196.50,365.03 L197.00,365.58 L197.50,366.12 L198.00,366.67 L198.50,367.21 L199.00,367.75 L199.50,368.28 L200.00,368.81 L200.50,369.34 L201.00,369.87 L201.50,370.39 L202.00,370.91 L202.50,371.43 L203.00,371.94 L203.50,372.45 L204.00,372.96 L204.50,373.46 L205.00,373.96 L205.50,374.46 L206.00,374.95 L206.50,375.44 L207.00,375.92 L207.50,376.40 L208.00,376.88 L208.50,377.35 L209.00,377.82 L209.50,378.29 L210.00,378.75 L210.50,379.20 L211.00,379.66 L211.50,380.10 L212.00,380.55 L212.50,380.99 L213.00,381.42 L213.50,381.85 L214.00,382.28 L214.50,382.70 L215.00,383.11 L215.50,383.52 L216.00,383.93 L216.50,384.33 L217.00,384.73 L217.50,385.12 L218.00,385.50 L218.50,385.88 L219.00,386.26 L219.50,386.63 L220.00,386.99 L220.50,387.35 L221.00,387.71 L221.50,388.06 L222.00,388.40 L222.50,388.74 L223.00,389.07 L223.50,389.39 L224.00,389.71 L224.50,390.03 L225.00,390.33 L225.50,390.64 L226.00,390.93 L226.50,391.23 L227.00,391.51 L227.50,391.79 L228.00,392.07 L228.50,392.34 L229.00,392.60 L229.50,392.86 L230.00,393.12 L230.50,393.37 L231.00,393.62 L231.50,393.86 L232.00,394.09 L232.50,394.32 L233.00,394.55 L233.50,394.78 L234.00,394.99 L234.50,395.21 L235.00,395.42 L235.50,395.63 L236.00,395.83 L236.50,396.03 L237.00,396.22 L237.50,396.41 L238.00,396.60 L238.50,396.79 L239.00,396.97 L239.50,397.14 L240.00,397.32 L240.50,397.49 L241.00,397.66 L241.50,397.82 L242.00,397.98 L242.50,398.14 L243.00,398.30 L243.50,398.45 L244.00,398.60 L244.50,398.75 L245.00,398.89 L245.50,399.04 L246.00,399.18 L246.50,399.32 L247.00,399.45 L247.50,399.59 L248.00,399.72 L248.50,399.85 L249.00,399.98 L249.50,400.11 L250.00,400.23 L250.50,400.36 L251.00,400.48 L251.50,400.60 L252.00,400.72 L252.50,400.84 L253.00,400.95 L253.50,401.07 L254.00,401.19 L254.50,401.30 L255.00,401.41 L255.50,401.53 L256.00,401.64 L256.50,401.75 L257.00,401.86 L257.50,401.97 L258.00,402.08 L258.50,402.19 L259.00,402.30 L259.50,402.41 L260.00,402.52 L260.50,402.63 L261.00,402.74 L261.50,402.84 L262.00,402.95 L262.50,403.06 L263.00,403.18 L263.50,403.29 L264.00,403.40 L264.50,403.51 L265.00,403.63 L265.50,403.74 L266.00,403.85 L266.50,403.97 L267.00,404.09 L267.50,404.21 L268.00,404.33 L268.50,404.45 L269.00,404.57 L269.50,404.69 L270.00,404.82 L270.50,404.95 L271.00,405.08 L271.50,405.21 L272.00,405.34 L272.50,405.48 L273.00,405.61 L273.50,405.75 L274.00,405.89 L274.50,406.04 L275.00,406.18 L275.50,406.33 L276.00,406.48 L276.50,406.64 L277.00,406.79 L277.50,406.95 L278.00,407.12 L278.50,407.28 L279.00,407.45 L279.50,407.62 L280.00,407.80 L280.50,407.97 L280.60,408.01" fill="none" stroke="#000" stroke-width="1.6" stroke-linejoin="round"/>
<line x1="43.40" y1="408.40" x2="280.60" y2="408.40" stroke="#38f038" stroke-width="1.5" stroke-dasharray="7.0 6.1" stroke-dashoffset="5.50"/>
<line x1="51.50" y1="268.50" x2="51.50" y2="400.40" stroke="#38f038" stroke-width="1.6"/>
<path d="M47.20,398.90 L51.50,400.20 L55.80,398.90 L51.50,407.40 Z" fill="#38f038"/>
<line x1="43.40" y1="268.50" x2="280.60" y2="268.50" stroke="#222" stroke-width="1.20"/>
<line x1="43.50" y1="268.00" x2="43.50" y2="455.90" stroke="#333" stroke-width="1.20"/>
<line x1="39.90" y1="455.30" x2="43.40" y2="455.30" stroke="#333" stroke-width="1"/>
<text x="36.90" y="458.30" text-anchor="end" font-size="9.5" fill="#222" stroke="#222" class="t">0</text>
<line x1="41.60" y1="445.96" x2="43.40" y2="445.96" stroke="#333" stroke-width="1"/>
<line x1="39.90" y1="436.62" x2="43.40" y2="436.62" stroke="#333" stroke-width="1"/>
<text x="36.90" y="439.62" text-anchor="end" font-size="9.5" fill="#222" stroke="#222" class="t">10</text>
<line x1="41.60" y1="427.28" x2="43.40" y2="427.28" stroke="#333" stroke-width="1"/>
<line x1="39.90" y1="417.94" x2="43.40" y2="417.94" stroke="#333" stroke-width="1"/>
<text x="36.90" y="420.94" text-anchor="end" font-size="9.5" fill="#222" stroke="#222" class="t">20</text>
<line x1="41.60" y1="408.60" x2="43.40" y2="408.60" stroke="#333" stroke-width="1"/>
<line x1="39.90" y1="399.26" x2="43.40" y2="399.26" stroke="#333" stroke-width="1"/>
<text x="36.90" y="402.26" text-anchor="end" font-size="9.5" fill="#222" stroke="#222" class="t">30</text>
<line x1="41.60" y1="389.92" x2="43.40" y2="389.92" stroke="#333" stroke-width="1"/>
<line x1="39.90" y1="380.58" x2="43.40" y2="380.58" stroke="#333" stroke-width="1"/>
<text x="36.90" y="383.58" text-anchor="end" font-size="9.5" fill="#222" stroke="#222" class="t">40</text>
<line x1="41.60" y1="371.24" x2="43.40" y2="371.24" stroke="#333" stroke-width="1"/>
<line x1="39.90" y1="361.90" x2="43.40" y2="361.90" stroke="#333" stroke-width="1"/>
<text x="36.90" y="364.90" text-anchor="end" font-size="9.5" fill="#222" stroke="#222" class="t">50</text>
<line x1="41.60" y1="352.56" x2="43.40" y2="352.56" stroke="#333" stroke-width="1"/>
<line x1="39.90" y1="343.22" x2="43.40" y2="343.22" stroke="#333" stroke-width="1"/>
<text x="36.90" y="346.22" text-anchor="end" font-size="9.5" fill="#222" stroke="#222" class="t">60</text>
<line x1="41.60" y1="333.88" x2="43.40" y2="333.88" stroke="#333" stroke-width="1"/>
<line x1="39.90" y1="324.54" x2="43.40" y2="324.54" stroke="#333" stroke-width="1"/>
<text x="36.90" y="327.54" text-anchor="end" font-size="9.5" fill="#222" stroke="#222" class="t">70</text>
<line x1="41.60" y1="315.20" x2="43.40" y2="315.20" stroke="#333" stroke-width="1"/>
<line x1="39.90" y1="305.86" x2="43.40" y2="305.86" stroke="#333" stroke-width="1"/>
<text x="36.90" y="308.86" text-anchor="end" font-size="9.5" fill="#222" stroke="#222" class="t">80</text>
<line x1="41.60" y1="296.52" x2="43.40" y2="296.52" stroke="#333" stroke-width="1"/>
<line x1="39.90" y1="287.18" x2="43.40" y2="287.18" stroke="#333" stroke-width="1"/>
<text x="36.90" y="290.18" text-anchor="end" font-size="9.5" fill="#222" stroke="#222" class="t">90</text>
<line x1="41.60" y1="277.84" x2="43.40" y2="277.84" stroke="#333" stroke-width="1"/>
<line x1="39.90" y1="268.50" x2="43.40" y2="268.50" stroke="#333" stroke-width="1"/>
<text x="36.90" y="271.50" text-anchor="end" font-size="9.5" fill="#222" stroke="#222" class="t">100</text>
<line x1="42.80" y1="455.30" x2="280.60" y2="455.30" stroke="#333" stroke-width="1.30"/>
<line x1="43.40" y1="455.30" x2="43.40" y2="457.20" stroke="#333" stroke-width="1"/>
<line x1="59.21" y1="455.30" x2="59.21" y2="459.00" stroke="#333" stroke-width="1"/>
<text x="59.21" y="469.10" text-anchor="middle" font-size="9.5" fill="#222" stroke="#222" class="t">40</text>
<line x1="75.03" y1="455.30" x2="75.03" y2="457.20" stroke="#333" stroke-width="1"/>
<line x1="90.84" y1="455.30" x2="90.84" y2="459.00" stroke="#333" stroke-width="1"/>
<text x="90.84" y="469.10" text-anchor="middle" font-size="9.5" fill="#222" stroke="#222" class="t">60</text>
<line x1="106.65" y1="455.30" x2="106.65" y2="457.20" stroke="#333" stroke-width="1"/>
<line x1="122.47" y1="455.30" x2="122.47" y2="459.00" stroke="#333" stroke-width="1"/>
<text x="122.47" y="469.10" text-anchor="middle" font-size="9.5" fill="#222" stroke="#222" class="t">80</text>
<line x1="138.28" y1="455.30" x2="138.28" y2="457.20" stroke="#333" stroke-width="1"/>
<line x1="154.09" y1="455.30" x2="154.09" y2="459.00" stroke="#333" stroke-width="1"/>
<text x="154.09" y="469.10" text-anchor="middle" font-size="9.5" fill="#222" stroke="#222" class="t">100</text>
<line x1="169.91" y1="455.30" x2="169.91" y2="457.20" stroke="#333" stroke-width="1"/>
<line x1="185.72" y1="455.30" x2="185.72" y2="459.00" stroke="#333" stroke-width="1"/>
<text x="185.72" y="469.10" text-anchor="middle" font-size="9.5" fill="#222" stroke="#222" class="t">120</text>
<line x1="201.53" y1="455.30" x2="201.53" y2="457.20" stroke="#333" stroke-width="1"/>
<line x1="217.35" y1="455.30" x2="217.35" y2="459.00" stroke="#333" stroke-width="1"/>
<text x="217.35" y="469.10" text-anchor="middle" font-size="9.5" fill="#222" stroke="#222" class="t">140</text>
<line x1="233.16" y1="455.30" x2="233.16" y2="457.20" stroke="#333" stroke-width="1"/>
<line x1="248.97" y1="455.30" x2="248.97" y2="459.00" stroke="#333" stroke-width="1"/>
<text x="248.97" y="469.10" text-anchor="middle" font-size="9.5" fill="#222" stroke="#222" class="t">160</text>
<line x1="264.79" y1="455.30" x2="264.79" y2="457.20" stroke="#333" stroke-width="1"/>
<line x1="280.60" y1="455.30" x2="280.60" y2="459.00" stroke="#333" stroke-width="1"/>
<text x="280.60" y="469.10" text-anchor="middle" font-size="9.5" fill="#222" stroke="#222" class="t">180</text>
<line x1="280.60" y1="268.50" x2="280.60" y2="455.90" stroke="#f03838" stroke-width="1.1"/>
<line x1="280.60" y1="455.30" x2="284.10" y2="455.30" stroke="#f03838" stroke-width="1"/>
<text x="287.00" y="458.20" font-size="9.5" fill="#f03838" stroke="#f03838" class="t">0.0</text>
<line x1="280.60" y1="439.73" x2="282.40" y2="439.73" stroke="#f03838" stroke-width="1"/>
<line x1="280.60" y1="424.17" x2="284.10" y2="424.17" stroke="#f03838" stroke-width="1"/>
<text x="287.00" y="427.07" font-size="9.5" fill="#f03838" stroke="#f03838" class="t">0.2</text>
<line x1="280.60" y1="408.60" x2="282.40" y2="408.60" stroke="#f03838" stroke-width="1"/>
<line x1="280.60" y1="393.03" x2="284.10" y2="393.03" stroke="#f03838" stroke-width="1"/>
<text x="287.00" y="395.93" font-size="9.5" fill="#f03838" stroke="#f03838" class="t">0.4</text>
<line x1="280.60" y1="377.47" x2="282.40" y2="377.47" stroke="#f03838" stroke-width="1"/>
<line x1="280.60" y1="361.90" x2="284.10" y2="361.90" stroke="#f03838" stroke-width="1"/>
<text x="287.00" y="364.80" font-size="9.5" fill="#f03838" stroke="#f03838" class="t">0.6</text>
<line x1="280.60" y1="346.33" x2="282.40" y2="346.33" stroke="#f03838" stroke-width="1"/>
<line x1="280.60" y1="330.77" x2="284.10" y2="330.77" stroke="#f03838" stroke-width="1"/>
<text x="287.00" y="333.67" font-size="9.5" fill="#f03838" stroke="#f03838" class="t">0.8</text>
<line x1="280.60" y1="315.20" x2="282.40" y2="315.20" stroke="#f03838" stroke-width="1"/>
<line x1="280.60" y1="299.63" x2="284.10" y2="299.63" stroke="#f03838" stroke-width="1"/>
<text x="287.00" y="302.53" font-size="9.5" fill="#f03838" stroke="#f03838" class="t">1.0</text>
<line x1="280.60" y1="284.07" x2="282.40" y2="284.07" stroke="#f03838" stroke-width="1"/>
<line x1="280.60" y1="268.50" x2="284.10" y2="268.50" stroke="#f03838" stroke-width="1"/>
<text x="287.00" y="271.40" font-size="9.5" fill="#f03838" stroke="#f03838" class="t">1.2</text>
<text x="162.00" y="486.90" text-anchor="middle" font-size="11.8" fill="#111" stroke="#111" class="t">Temperature / °C</text>
<text transform="translate(14.10,361.90) rotate(-90)" text-anchor="middle" font-size="11.3" fill="#111" stroke="#111" class="t">Mass / %</text>
<text transform="translate(320.10,423.70) rotate(-90)" font-size="11.30" fill="#f03838" stroke="#f03838" class="t">Derivative mass / % °C<tspan font-size="9.61" dy="-4.90">-1</tspan></text>
<text x="3.60" y="274.30" font-size="11.8" font-weight="bold" fill="#111">c)</text>
<text x="236.80" y="289.00" font-size="11.5" font-weight="bold" fill="#38f038">DES2</text>
<text x="56.60" y="340.60" font-size="9.9" font-weight="bold" fill="#38f038">75%</text></g>
<g><path d="M404.20,450.20 L404.70,450.06 L405.20,449.92 L405.70,449.78 L406.20,449.64 L406.70,449.50 L407.20,449.36 L407.70,449.23 L408.20,449.09 L408.70,448.96 L409.20,448.83 L409.70,448.69 L410.20,448.56 L410.70,448.43 L411.20,448.30 L411.70,448.17 L412.20,448.04 L412.70,447.91 L413.20,447.78 L413.70,447.65 L414.20,447.52 L414.70,447.40 L415.20,447.27 L415.70,447.14 L416.20,447.01 L416.70,446.88 L417.20,446.75 L417.70,446.62 L418.20,446.49 L418.70,446.36 L419.20,446.23 L419.70,446.10 L420.20,445.97 L420.70,445.83 L421.20,445.70 L421.70,445.56 L422.20,445.43 L422.70,445.29 L423.20,445.15 L423.70,445.01 L424.20,444.87 L424.70,444.73 L425.20,444.59 L425.70,444.44 L426.20,444.30 L426.70,444.15 L427.20,444.00 L427.70,443.85 L428.20,443.69 L428.70,443.54 L429.20,443.38 L429.70,443.22 L430.20,443.06 L430.70,442.90 L431.20,442.64 L431.70,442.36 L432.20,442.07 L432.70,441.76 L433.20,441.45 L433.70,441.11 L434.20,440.77 L434.70,440.41 L435.20,440.04 L435.70,439.65 L436.20,439.26 L436.70,438.85 L437.20,438.42 L437.70,437.99 L438.20,437.54 L438.70,437.08 L439.20,436.61 L439.70,436.12 L440.20,435.63 L440.70,435.12 L441.20,434.60 L441.70,434.07 L442.20,433.53 L442.70,432.98 L443.20,432.42 L443.70,431.84 L444.20,431.26 L444.70,430.67 L445.20,430.06 L445.70,429.45 L446.20,428.82 L446.70,428.19 L447.20,427.54 L447.70,426.89 L448.20,426.23 L448.70,425.56 L449.20,424.88 L449.70,424.19 L450.20,423.49 L450.70,422.78 L451.20,422.06 L451.70,421.34 L452.20,420.61 L452.70,419.87 L453.20,419.12 L453.70,418.36 L454.20,417.60 L454.70,416.83 L455.20,416.05 L455.70,415.27 L456.20,414.47 L456.70,413.67 L457.20,412.87 L457.70,412.06 L458.20,411.24 L458.70,410.41 L459.20,409.58 L459.70,408.74 L460.20,407.90 L460.70,407.05 L461.20,406.20 L461.70,405.34 L462.20,404.47 L462.70,403.60 L463.20,402.72 L463.70,401.84 L464.20,400.96 L464.70,400.07 L465.20,399.17 L465.70,398.27 L466.20,397.36 L466.70,396.45 L467.20,395.54 L467.70,394.62 L468.20,393.70 L468.70,392.77 L469.20,391.84 L469.70,390.91 L470.20,389.97 L470.70,389.03 L471.20,388.08 L471.70,387.13 L472.20,386.18 L472.70,385.23 L473.20,384.27 L473.70,383.31 L474.20,382.34 L474.70,381.38 L475.20,380.41 L475.70,379.43 L476.20,378.46 L476.70,377.48 L477.20,376.50 L477.70,375.52 L478.20,374.54 L478.70,373.55 L479.20,372.56 L479.70,371.57 L480.20,370.58 L480.70,369.59 L481.20,368.60 L481.70,367.60 L482.20,366.61 L482.70,365.61 L483.20,364.61 L483.70,363.61 L484.20,362.61 L484.70,361.61 L485.20,360.61 L485.70,359.61 L486.20,358.61 L486.70,357.60 L487.20,356.60 L487.70,355.60 L488.20,354.60 L488.70,353.61 L489.20,352.61 L489.70,351.61 L490.20,350.61 L490.70,349.62 L491.20,348.63 L491.70,347.64 L492.20,346.65 L492.70,345.66 L493.20,344.68 L493.70,343.69 L494.20,342.71 L494.70,341.74 L495.20,340.76 L495.70,339.79 L496.20,338.82 L496.70,337.86 L497.20,336.90 L497.70,335.94 L498.20,334.99 L498.70,334.04 L499.20,333.09 L499.70,332.15 L500.20,331.21 L500.70,330.28 L501.20,329.35 L501.70,328.43 L502.20,327.51 L502.70,326.60 L503.20,325.69 L503.70,324.79 L504.20,323.90 L504.70,323.01 L505.20,322.12 L505.70,321.24 L506.20,320.37 L506.70,319.51 L507.20,318.65 L507.70,317.80 L508.20,316.96 L508.70,316.12 L509.20,315.29 L509.70,314.47 L510.20,313.65 L510.70,312.85 L511.20,312.05 L511.70,311.26 L512.20,310.48 L512.70,309.70 L513.20,308.94 L513.70,308.19 L514.20,307.44 L514.70,306.71 L515.20,305.99 L515.70,305.28 L516.20,304.58 L516.70,303.90 L517.20,303.22 L517.70,302.56 L518.20,301.92 L518.70,301.29 L519.20,300.67 L519.70,300.06 L520.20,299.48 L520.70,298.90 L521.20,298.35 L521.70,297.81 L522.20,297.28 L522.70,296.78 L523.20,296.29 L523.70,295.82 L524.20,295.36 L524.70,294.93 L525.20,294.52 L525.70,294.12 L526.20,293.75 L526.70,293.39 L527.20,293.06 L527.70,292.75 L528.20,292.46 L528.70,292.19 L529.20,291.95 L529.70,291.72 L530.20,291.52 L530.70,291.35 L531.20,291.20 L531.70,291.07 L532.20,290.97 L532.70,290.89 L533.20,290.84 L533.70,290.82 L534.20,290.82 L534.70,290.85 L535.20,290.91 L535.70,290.99 L536.20,291.10 L536.70,291.24 L537.20,291.41 L537.70,291.60 L538.20,291.81 L538.70,292.05 L539.20,292.32 L539.70,292.61 L540.20,292.93 L540.70,293.27 L541.20,293.63 L541.70,294.01 L542.20,294.42 L542.70,294.85 L543.20,295.30 L543.70,295.78 L544.20,296.27 L544.70,296.79 L545.20,297.33 L545.70,297.88 L546.20,298.46 L546.70,299.06 L547.20,299.67 L547.70,300.31 L548.20,300.96 L548.70,301.63 L549.20,302.32 L549.70,303.03 L550.20,303.75 L550.70,304.49 L551.20,305.25 L551.70,306.02 L552.20,306.81 L552.70,307.61 L553.20,308.43 L553.70,309.26 L554.20,310.11 L554.70,310.97 L555.20,311.84 L555.70,312.73 L556.20,313.63 L556.70,314.54 L557.20,315.46 L557.70,316.40 L558.20,317.35 L558.70,318.31 L559.20,319.27 L559.70,320.25 L560.20,321.24 L560.70,322.24 L561.20,323.25 L561.70,324.26 L562.20,325.29 L562.70,326.32 L563.20,327.36 L563.70,328.41 L564.20,329.46 L564.70,330.52 L565.20,331.59 L565.70,332.66 L566.20,333.74 L566.70,334.83 L567.20,335.91 L567.70,337.01 L568.20,338.11 L568.70,339.21 L569.20,340.31 L569.70,341.42 L570.20,342.53 L570.70,343.64 L571.20,344.76 L571.70,345.87 L572.20,346.99 L572.70,348.11 L573.20,349.23 L573.70,350.35 L574.20,351.47 L574.70,352.59 L575.20,353.71 L575.70,354.82 L576.20,355.94 L576.70,357.05 L577.20,358.16 L577.70,359.27 L578.20,360.38 L578.70,361.48 L579.20,362.58 L579.70,363.67 L580.20,364.76 L580.70,365.85 L581.20,366.93 L581.70,368.00 L582.20,369.07 L582.70,370.13 L583.20,371.19 L583.70,372.24 L584.20,373.28 L584.70,374.32 L585.20,375.34 L585.70,376.36 L586.20,377.37 L586.70,378.37 L587.20,379.36 L587.70,380.34 L588.20,381.31 L588.70,382.27 L589.20,383.22 L589.70,384.16 L590.20,385.09 L590.70,386.00 L591.20,386.91 L591.70,387.80 L592.20,388.67 L592.70,389.54 L593.20,390.39 L593.70,391.22 L594.20,392.05 L594.70,392.85 L595.20,393.65 L595.70,394.43 L596.20,395.19 L596.70,395.95 L597.20,396.69 L597.70,397.41 L598.20,398.13 L598.70,398.82 L599.20,399.51 L599.70,400.19 L600.20,400.85 L600.70,401.50 L601.20,402.14 L601.70,402.76 L602.20,403.38 L602.70,403.98 L603.20,404.57 L603.70,405.15 L604.20,405.72 L604.70,406.27 L605.20,406.82 L605.70,407.36 L606.20,407.88 L606.70,408.40 L607.20,408.90 L607.70,409.40 L608.20,409.88 L608.70,410.36 L609.20,410.83 L609.70,411.28 L610.20,411.73 L610.70,412.17 L611.20,412.60 L611.70,413.02 L612.20,413.43 L612.70,413.83 L613.20,414.23 L613.70,414.62 L614.20,415.00 L614.70,415.37 L615.20,415.73 L615.70,416.09 L616.20,416.44 L616.70,416.78 L617.20,417.12 L617.70,417.45 L618.20,417.77 L618.70,418.09 L619.20,418.40 L619.70,418.70 L620.20,419.00 L620.70,419.29 L621.20,419.58 L621.70,419.86 L622.20,420.13 L622.70,420.40 L623.20,420.67 L623.70,420.93 L624.20,421.19 L624.70,421.44 L625.20,421.69 L625.70,421.93 L626.20,422.17 L626.70,422.40 L627.20,422.64 L627.70,422.86 L628.20,423.09 L628.70,423.31 L629.20,423.53 L629.70,423.74 L630.20,423.96 L630.70,424.17 L631.20,424.38 L631.70,424.58 L632.20,424.79 L632.70,424.99 L633.20,425.19 L633.70,425.39 L634.20,425.58 L634.70,425.78 L635.20,425.98 L635.70,426.17 L636.20,426.36 L636.70,426.56 L637.20,426.75 L637.70,426.94 L638.20,427.13 L638.70,427.32 L639.20,427.52 L639.70,427.71 L640.20,427.90 L640.70,428.10 L641.20,428.29 L641.50,428.41" fill="none" stroke="#f81e1e" stroke-width="1.7" stroke-linejoin="round"/>
<path d="M410.00,268.71 L410.50,268.71 L411.00,268.71 L411.50,268.71 L412.00,268.71 L412.50,268.72 L413.00,268.72 L413.50,268.72 L414.00,268.73 L414.50,268.73 L415.00,268.74 L415.50,268.75 L416.00,268.75 L416.50,268.76 L417.00,268.77 L417.50,268.78 L418.00,268.80 L418.50,268.81 L419.00,268.82 L419.50,268.84 L420.00,268.86 L420.50,268.88 L421.00,268.89 L421.50,268.91 L422.00,268.94 L422.50,268.96 L423.00,268.98 L423.50,269.01 L424.00,269.04 L424.50,269.06 L425.00,269.09 L425.50,269.12 L426.00,269.16 L426.50,269.19 L427.00,269.23 L427.50,269.26 L428.00,269.30 L428.50,269.34 L429.00,269.38 L429.50,269.43 L430.00,269.47 L430.50,269.52 L431.00,269.57 L431.50,269.62 L432.00,269.67 L432.50,269.72 L433.00,269.78 L433.50,269.83 L434.00,269.89 L434.50,269.95 L435.00,270.02 L435.50,270.08 L436.00,270.15 L436.50,270.21 L437.00,270.28 L437.50,270.36 L438.00,270.43 L438.50,270.51 L439.00,270.59 L439.50,270.67 L440.00,270.75 L440.50,270.83 L441.00,270.92 L441.50,271.01 L442.00,271.10 L442.50,271.19 L443.00,271.29 L443.50,271.39 L444.00,271.49 L444.50,271.59 L445.00,271.70 L445.50,271.80 L446.00,271.91 L446.50,272.02 L447.00,272.14 L447.50,272.26 L448.00,272.38 L448.50,272.50 L449.00,272.62 L449.50,272.75 L450.00,272.88 L450.50,273.01 L451.00,273.15 L451.50,273.29 L452.00,273.43 L452.50,273.57 L453.00,273.71 L453.50,273.86 L454.00,274.01 L454.50,274.17 L455.00,274.33 L455.50,274.49 L456.00,274.65 L456.50,274.81 L457.00,274.98 L457.50,275.15 L458.00,275.33 L458.50,275.51 L459.00,275.69 L459.50,275.87 L460.00,276.06 L460.50,276.25 L461.00,276.44 L461.50,276.63 L462.00,276.83 L462.50,277.04 L463.00,277.24 L463.50,277.45 L464.00,277.66 L464.50,277.88 L465.00,278.10 L465.50,278.32 L466.00,278.54 L466.50,278.77 L467.00,279.00 L467.50,279.24 L468.00,279.48 L468.50,279.72 L469.00,279.97 L469.50,280.22 L470.00,280.47 L470.50,280.72 L471.00,280.99 L471.50,281.25 L472.00,281.52 L472.50,281.79 L473.00,282.06 L473.50,282.34 L474.00,282.62 L474.50,282.91 L475.00,283.20 L475.50,283.49 L476.00,283.79 L476.50,284.09 L477.00,284.39 L477.50,284.70 L478.00,285.02 L478.50,285.33 L479.00,285.65 L479.50,285.98 L480.00,286.31 L480.50,286.64 L481.00,286.98 L481.50,287.32 L482.00,287.66 L482.50,288.01 L483.00,288.37 L483.50,288.72 L484.00,289.09 L484.50,289.45 L485.00,289.82 L485.50,290.20 L486.00,290.58 L486.50,290.96 L487.00,291.35 L487.50,291.74 L488.00,292.14 L488.50,292.54 L489.00,292.94 L489.50,293.35 L490.00,293.76 L490.50,294.18 L491.00,294.60 L491.50,295.02 L492.00,295.45 L492.50,295.88 L493.00,296.32 L493.50,296.76 L494.00,297.20 L494.50,297.65 L495.00,298.10 L495.50,298.55 L496.00,299.01 L496.50,299.47 L497.00,299.94 L497.50,300.40 L498.00,300.87 L498.50,301.35 L499.00,301.83 L499.50,302.31 L500.00,302.79 L500.50,303.28 L501.00,303.77 L501.50,304.26 L502.00,304.76 L502.50,305.25 L503.00,305.76 L503.50,306.26 L504.00,306.77 L504.50,307.28 L505.00,307.79 L505.50,308.30 L506.00,308.82 L506.50,309.34 L507.00,309.87 L507.50,310.39 L508.00,310.92 L508.50,311.45 L509.00,311.98 L509.50,312.51 L510.00,313.05 L510.50,313.59 L511.00,314.13 L511.50,314.67 L512.00,315.22 L512.50,315.77 L513.00,316.32 L513.50,316.87 L514.00,317.42 L514.50,317.97 L515.00,318.53 L515.50,319.09 L516.00,319.65 L516.50,320.21 L517.00,320.77 L517.50,321.34 L518.00,321.90 L518.50,322.47 L519.00,323.04 L519.50,323.61 L520.00,324.18 L520.50,324.75 L521.00,325.33 L521.50,325.90 L522.00,326.48 L522.50,327.05 L523.00,327.63 L523.50,328.21 L524.00,328.79 L524.50,329.37 L525.00,329.95 L525.50,330.54 L526.00,331.12 L526.50,331.70 L527.00,332.29 L527.50,332.87 L528.00,333.46 L528.50,334.05 L529.00,334.63 L529.50,335.22 L530.00,335.81 L530.50,336.40 L531.00,336.99 L531.50,337.57 L532.00,338.16 L532.50,338.75 L533.00,339.34 L533.50,339.93 L534.00,340.52 L534.50,341.11 L535.00,341.70 L535.50,342.29 L536.00,342.87 L536.50,343.46 L537.00,344.05 L537.50,344.64 L538.00,345.22 L538.50,345.81 L539.00,346.40 L539.50,346.98 L540.00,347.57 L540.50,348.15 L541.00,348.74 L541.50,349.32 L542.00,349.90 L542.50,350.48 L543.00,351.06 L543.50,351.64 L544.00,352.22 L544.50,352.80 L545.00,353.38 L545.50,353.95 L546.00,354.52 L546.50,355.10 L547.00,355.67 L547.50,356.24 L548.00,356.81 L548.50,357.38 L549.00,357.94 L549.50,358.51 L550.00,359.07 L550.50,359.63 L551.00,360.19 L551.50,360.75 L552.00,361.30 L552.50,361.86 L553.00,362.41 L553.50,362.96 L554.00,363.51 L554.50,364.05 L555.00,364.60 L555.50,365.14 L556.00,365.68 L556.50,366.22 L557.00,366.75 L557.50,367.29 L558.00,367.82 L558.50,368.35 L559.00,368.87 L559.50,369.40 L560.00,369.92 L560.50,370.43 L561.00,370.95 L561.50,371.46 L562.00,371.97 L562.50,372.48 L563.00,372.99 L563.50,373.49 L564.00,373.99 L564.50,374.48 L565.00,374.97 L565.50,375.46 L566.00,375.95 L566.50,376.43 L567.00,376.91 L567.50,377.39 L568.00,377.86 L568.50,378.33 L569.00,378.80 L569.50,379.26 L570.00,379.72 L570.50,380.18 L571.00,380.63 L571.50,381.08 L572.00,381.52 L572.50,381.96 L573.00,382.40 L573.50,382.83 L574.00,383.26 L574.50,383.69 L575.00,384.11 L575.50,384.53 L576.00,384.94 L576.50,385.35 L577.00,385.75 L577.50,386.16 L578.00,386.55 L578.50,386.94 L579.00,387.33 L579.50,387.71 L580.00,388.09 L580.50,388.47 L581.00,388.83 L581.50,389.20 L582.00,389.56 L582.50,389.91 L583.00,390.26 L583.50,390.61 L584.00,390.95 L584.50,391.29 L585.00,391.62 L585.50,391.95 L586.00,392.27 L586.50,392.59 L587.00,392.91 L587.50,393.22 L588.00,393.52 L588.50,393.83 L589.00,394.12 L589.50,394.42 L590.00,394.71 L590.50,394.99 L591.00,395.27 L591.50,395.55 L592.00,395.83 L592.50,396.10 L593.00,396.36 L593.50,396.62 L594.00,396.88 L594.50,397.14 L595.00,397.39 L595.50,397.64 L596.00,397.88 L596.50,398.12 L597.00,398.36 L597.50,398.59 L598.00,398.82 L598.50,399.05 L599.00,399.27 L599.50,399.49 L600.00,399.71 L600.50,399.92 L601.00,400.13 L601.50,400.34 L602.00,400.54 L602.50,400.74 L603.00,400.94 L603.50,401.14 L604.00,401.33 L604.50,401.52 L605.00,401.70 L605.50,401.88 L606.00,402.07 L606.50,402.24 L607.00,402.42 L607.50,402.59 L608.00,402.76 L608.50,402.93 L609.00,403.09 L609.50,403.25 L610.00,403.41 L610.50,403.57 L611.00,403.72 L611.50,403.87 L612.00,404.02 L612.50,404.17 L613.00,404.32 L613.50,404.46 L614.00,404.60 L614.50,404.74 L615.00,404.88 L615.50,405.01 L616.00,405.14 L616.50,405.27 L617.00,405.40 L617.50,405.53 L618.00,405.65 L618.50,405.78 L619.00,405.90 L619.50,406.02 L620.00,406.13 L620.50,406.25 L621.00,406.37 L621.50,406.48 L622.00,406.59 L622.50,406.70 L623.00,406.81 L623.50,406.92 L624.00,407.02 L624.50,407.13 L625.00,407.23 L625.50,407.33 L626.00,407.43 L626.50,407.53 L627.00,407.63 L627.50,407.73 L628.00,407.82 L628.50,407.92 L629.00,408.01 L629.50,408.10 L630.00,408.20 L630.50,408.29 L631.00,408.38 L631.50,408.47 L632.00,408.56 L632.50,408.65 L633.00,408.73 L633.50,408.82 L634.00,408.91 L634.50,408.99 L635.00,409.08 L635.50,409.16 L636.00,409.25 L636.50,409.33 L637.00,409.42 L637.50,409.50 L638.00,409.58 L638.50,409.67 L639.00,409.75 L639.50,409.83 L640.00,409.92 L640.50,410.00 L641.00,410.08 L641.50,410.16" fill="none" stroke="#000" stroke-width="1.6" stroke-linejoin="round"/>
<line x1="404.20" y1="410.30" x2="641.50" y2="410.30" stroke="#ff30ff" stroke-width="1.5" stroke-dasharray="7.0 6.1" stroke-dashoffset="5.30"/>
<line x1="412.60" y1="268.50" x2="412.60" y2="402.60" stroke="#ff30ff" stroke-width="1.6"/>
<path d="M408.30,401.10 L412.60,402.40 L416.90,401.10 L412.60,409.50 Z" fill="#ff30ff"/>
<line x1="404.20" y1="268.50" x2="641.50" y2="268.50" stroke="#222" stroke-width="1.20"/>
<line x1="404.50" y1="268.00" x2="404.50" y2="455.90" stroke="#333" stroke-width="1.20"/>
<line x1="400.70" y1="455.30" x2="404.20" y2="455.30" stroke="#333" stroke-width="1"/>
<text x="397.70" y="458.30" text-anchor="end" font-size="9.5" fill="#222" stroke="#222" class="t">0</text>
<line x1="402.40" y1="445.96" x2="404.20" y2="445.96" stroke="#333" stroke-width="1"/>
<line x1="400.70" y1="436.62" x2="404.20" y2="436.62" stroke="#333" stroke-width="1"/>
<text x="397.70" y="439.62" text-anchor="end" font-size="9.5" fill="#222" stroke="#222" class="t">10</text>
<line x1="402.40" y1="427.28" x2="404.20" y2="427.28" stroke="#333" stroke-width="1"/>
<line x1="400.70" y1="417.94" x2="404.20" y2="417.94" stroke="#333" stroke-width="1"/>
<text x="397.70" y="420.94" text-anchor="end" font-size="9.5" fill="#222" stroke="#222" class="t">20</text>
<line x1="402.40" y1="408.60" x2="404.20" y2="408.60" stroke="#333" stroke-width="1"/>
<line x1="400.70" y1="399.26" x2="404.20" y2="399.26" stroke="#333" stroke-width="1"/>
<text x="397.70" y="402.26" text-anchor="end" font-size="9.5" fill="#222" stroke="#222" class="t">30</text>
<line x1="402.40" y1="389.92" x2="404.20" y2="389.92" stroke="#333" stroke-width="1"/>
<line x1="400.70" y1="380.58" x2="404.20" y2="380.58" stroke="#333" stroke-width="1"/>
<text x="397.70" y="383.58" text-anchor="end" font-size="9.5" fill="#222" stroke="#222" class="t">40</text>
<line x1="402.40" y1="371.24" x2="404.20" y2="371.24" stroke="#333" stroke-width="1"/>
<line x1="400.70" y1="361.90" x2="404.20" y2="361.90" stroke="#333" stroke-width="1"/>
<text x="397.70" y="364.90" text-anchor="end" font-size="9.5" fill="#222" stroke="#222" class="t">50</text>
<line x1="402.40" y1="352.56" x2="404.20" y2="352.56" stroke="#333" stroke-width="1"/>
<line x1="400.70" y1="343.22" x2="404.20" y2="343.22" stroke="#333" stroke-width="1"/>
<text x="397.70" y="346.22" text-anchor="end" font-size="9.5" fill="#222" stroke="#222" class="t">60</text>
<line x1="402.40" y1="333.88" x2="404.20" y2="333.88" stroke="#333" stroke-width="1"/>
<line x1="400.70" y1="324.54" x2="404.20" y2="324.54" stroke="#333" stroke-width="1"/>
<text x="397.70" y="327.54" text-anchor="end" font-size="9.5" fill="#222" stroke="#222" class="t">70</text>
<line x1="402.40" y1="315.20" x2="404.20" y2="315.20" stroke="#333" stroke-width="1"/>
<line x1="400.70" y1="305.86" x2="404.20" y2="305.86" stroke="#333" stroke-width="1"/>
<text x="397.70" y="308.86" text-anchor="end" font-size="9.5" fill="#222" stroke="#222" class="t">80</text>
<line x1="402.40" y1="296.52" x2="404.20" y2="296.52" stroke="#333" stroke-width="1"/>
<line x1="400.70" y1="287.18" x2="404.20" y2="287.18" stroke="#333" stroke-width="1"/>
<text x="397.70" y="290.18" text-anchor="end" font-size="9.5" fill="#222" stroke="#222" class="t">90</text>
<line x1="402.40" y1="277.84" x2="404.20" y2="277.84" stroke="#333" stroke-width="1"/>
<line x1="400.70" y1="268.50" x2="404.20" y2="268.50" stroke="#333" stroke-width="1"/>
<text x="397.70" y="271.50" text-anchor="end" font-size="9.5" fill="#222" stroke="#222" class="t">100</text>
<line x1="403.60" y1="455.30" x2="641.50" y2="455.30" stroke="#333" stroke-width="1.30"/>
<line x1="404.20" y1="455.30" x2="404.20" y2="457.20" stroke="#333" stroke-width="1"/>
<line x1="420.02" y1="455.30" x2="420.02" y2="459.00" stroke="#333" stroke-width="1"/>
<text x="420.02" y="469.10" text-anchor="middle" font-size="9.5" fill="#222" stroke="#222" class="t">40</text>
<line x1="435.84" y1="455.30" x2="435.84" y2="457.20" stroke="#333" stroke-width="1"/>
<line x1="451.66" y1="455.30" x2="451.66" y2="459.00" stroke="#333" stroke-width="1"/>
<text x="451.66" y="469.10" text-anchor="middle" font-size="9.5" fill="#222" stroke="#222" class="t">60</text>
<line x1="467.48" y1="455.30" x2="467.48" y2="457.20" stroke="#333" stroke-width="1"/>
<line x1="483.30" y1="455.30" x2="483.30" y2="459.00" stroke="#333" stroke-width="1"/>
<text x="483.30" y="469.10" text-anchor="middle" font-size="9.5" fill="#222" stroke="#222" class="t">80</text>
<line x1="499.12" y1="455.30" x2="499.12" y2="457.20" stroke="#333" stroke-width="1"/>
<line x1="514.94" y1="455.30" x2="514.94" y2="459.00" stroke="#333" stroke-width="1"/>
<text x="514.94" y="469.10" text-anchor="middle" font-size="9.5" fill="#222" stroke="#222" class="t">100</text>
<line x1="530.76" y1="455.30" x2="530.76" y2="457.20" stroke="#333" stroke-width="1"/>
<line x1="546.58" y1="455.30" x2="546.58" y2="459.00" stroke="#333" stroke-width="1"/>
<text x="546.58" y="469.10" text-anchor="middle" font-size="9.5" fill="#222" stroke="#222" class="t">120</text>
<line x1="562.40" y1="455.30" x2="562.40" y2="457.20" stroke="#333" stroke-width="1"/>
<line x1="578.22" y1="455.30" x2="578.22" y2="459.00" stroke="#333" stroke-width="1"/>
<text x="578.22" y="469.10" text-anchor="middle" font-size="9.5" fill="#222" stroke="#222" class="t">140</text>
<line x1="594.04" y1="455.30" x2="594.04" y2="457.20" stroke="#333" stroke-width="1"/>
<line x1="609.86" y1="455.30" x2="609.86" y2="459.00" stroke="#333" stroke-width="1"/>
<text x="609.86" y="469.10" text-anchor="middle" font-size="9.5" fill="#222" stroke="#222" class="t">160</text>
<line x1="625.68" y1="455.30" x2="625.68" y2="457.20" stroke="#333" stroke-width="1"/>
<line x1="641.50" y1="455.30" x2="641.50" y2="459.00" stroke="#333" stroke-width="1"/>
<text x="641.50" y="469.10" text-anchor="middle" font-size="9.5" fill="#222" stroke="#222" class="t">180</text>
<line x1="641.50" y1="268.50" x2="641.50" y2="455.90" stroke="#f03838" stroke-width="1.1"/>
<line x1="641.50" y1="455.30" x2="645.00" y2="455.30" stroke="#f03838" stroke-width="1"/>
<text x="647.90" y="458.20" font-size="9.5" fill="#f03838" stroke="#f03838" class="t">0.0</text>
<line x1="641.50" y1="439.73" x2="643.30" y2="439.73" stroke="#f03838" stroke-width="1"/>
<line x1="641.50" y1="424.17" x2="645.00" y2="424.17" stroke="#f03838" stroke-width="1"/>
<text x="647.90" y="427.07" font-size="9.5" fill="#f03838" stroke="#f03838" class="t">0.2</text>
<line x1="641.50" y1="408.60" x2="643.30" y2="408.60" stroke="#f03838" stroke-width="1"/>
<line x1="641.50" y1="393.03" x2="645.00" y2="393.03" stroke="#f03838" stroke-width="1"/>
<text x="647.90" y="395.93" font-size="9.5" fill="#f03838" stroke="#f03838" class="t">0.4</text>
<line x1="641.50" y1="377.47" x2="643.30" y2="377.47" stroke="#f03838" stroke-width="1"/>
<line x1="641.50" y1="361.90" x2="645.00" y2="361.90" stroke="#f03838" stroke-width="1"/>
<text x="647.90" y="364.80" font-size="9.5" fill="#f03838" stroke="#f03838" class="t">0.6</text>
<line x1="641.50" y1="346.33" x2="643.30" y2="346.33" stroke="#f03838" stroke-width="1"/>
<line x1="641.50" y1="330.77" x2="645.00" y2="330.77" stroke="#f03838" stroke-width="1"/>
<text x="647.90" y="333.67" font-size="9.5" fill="#f03838" stroke="#f03838" class="t">0.8</text>
<line x1="641.50" y1="315.20" x2="643.30" y2="315.20" stroke="#f03838" stroke-width="1"/>
<line x1="641.50" y1="299.63" x2="645.00" y2="299.63" stroke="#f03838" stroke-width="1"/>
<text x="647.90" y="302.53" font-size="9.5" fill="#f03838" stroke="#f03838" class="t">1.0</text>
<line x1="641.50" y1="284.07" x2="643.30" y2="284.07" stroke="#f03838" stroke-width="1"/>
<line x1="641.50" y1="268.50" x2="645.00" y2="268.50" stroke="#f03838" stroke-width="1"/>
<text x="647.90" y="271.40" font-size="9.5" fill="#f03838" stroke="#f03838" class="t">1.2</text>
<text x="522.85" y="486.90" text-anchor="middle" font-size="11.8" fill="#111" stroke="#111" class="t">Temperature / °C</text>
<text transform="translate(374.90,361.90) rotate(-90)" text-anchor="middle" font-size="11.3" fill="#111" stroke="#111" class="t">Mass / %</text>
<text transform="translate(681.00,423.90) rotate(-90)" font-size="11.55" fill="#f03838" stroke="#f03838" class="t">Derivative mass / % °C<tspan font-size="9.82" dy="-5.01">-1</tspan></text>
<text x="363.40" y="274.30" font-size="11.8" font-weight="bold" fill="#111">d)</text>
<text x="599.20" y="287.60" font-size="11.5" font-weight="bold" fill="#ff30ff">DES3</text>
<text x="416.60" y="343.60" font-size="9.9" font-weight="bold" fill="#ff30ff">76%</text></g>
</svg>
</body></html>
